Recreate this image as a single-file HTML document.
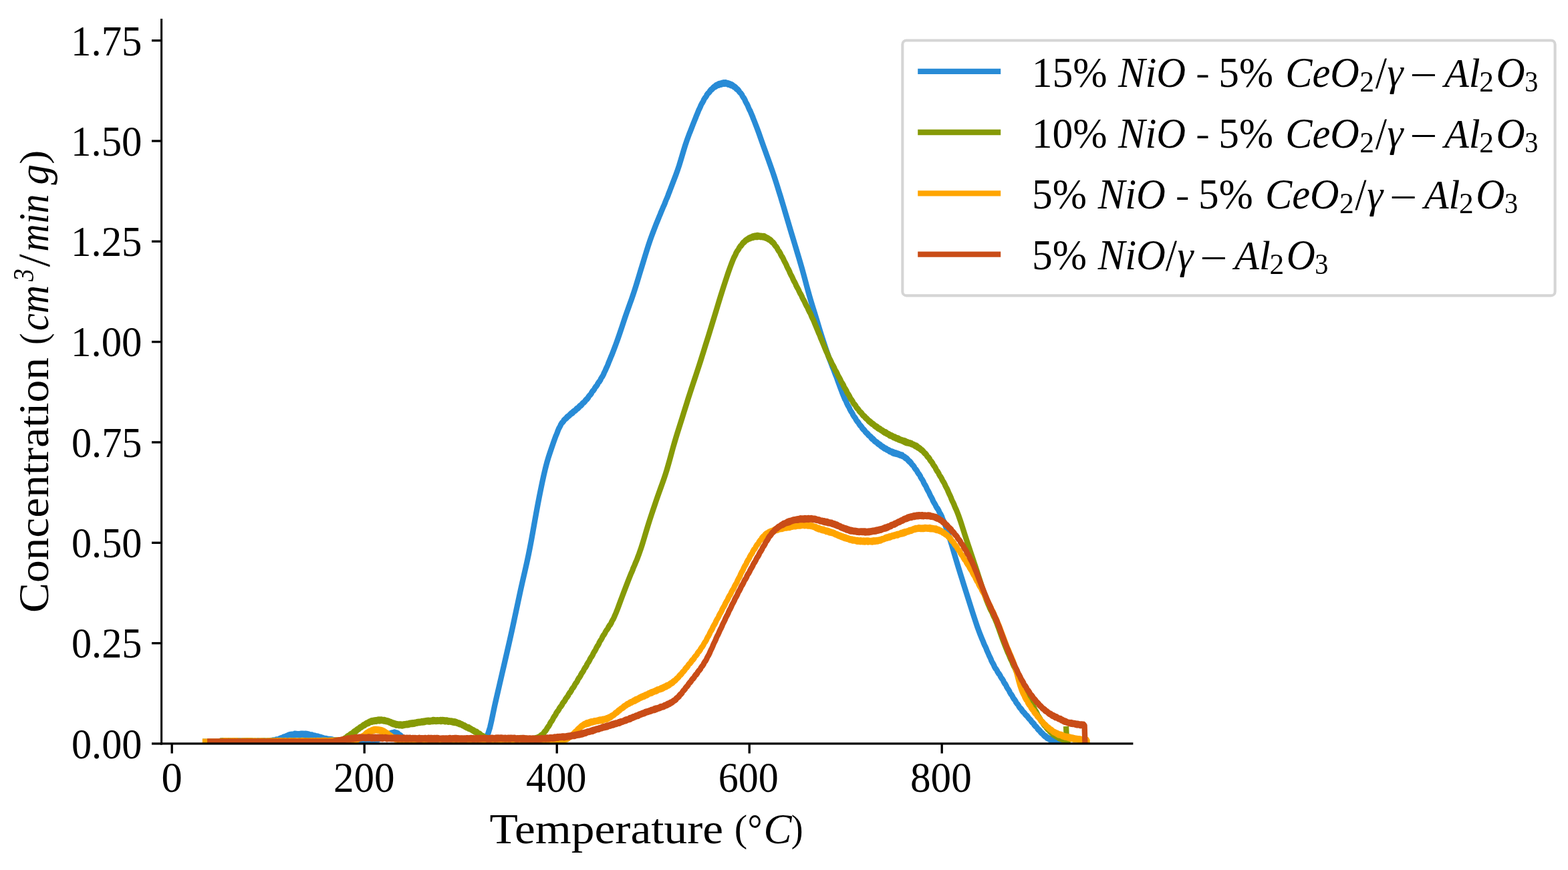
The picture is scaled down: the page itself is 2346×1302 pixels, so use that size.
<!DOCTYPE html>
<html lang="en"><head><meta charset="utf-8"><title>H2-TPR profiles</title>
<style>
html,body{margin:0;padding:0;background:#fff;}
body{width:2346px;height:1302px;overflow:hidden;}
svg{display:block;}
text{font-family:"Liberation Serif","DejaVu Serif",serif;fill:#000;}
.i{font-style:italic;}
</style></head><body>
<svg width="2346" height="1302" viewBox="0 0 2346 1302">
<rect width="2346" height="1302" fill="#fff"/>
<defs><clipPath id="ax"><rect x="241.6" y="28.0" width="1453.7" height="1084.9"/></clipPath></defs>

<g clip-path="url(#ax)" fill="none" stroke-width="8.33" stroke-linejoin="round" stroke-linecap="butt">
<path d="M303.0,1110.0 L305.3,1110.0 L307.6,1110.0 L309.9,1110.0 L312.2,1110.0 L314.5,1110.0 L316.8,1110.0 L319.1,1110.0 L321.4,1110.0 L323.7,1110.0 L326.0,1110.0 L328.3,1110.0 L330.6,1111.0 L330.6,1108.5 L332.9,1108.8 L332.9,1111.3 L335.2,1111.7 L335.2,1108.3 L337.5,1108.3 L337.5,1111.6 L339.8,1111.0 L339.8,1108.8 L342.1,1108.7 L342.1,1111.0 L344.4,1111.6 L344.4,1108.7 L346.7,1108.6 L346.7,1111.7 L349.0,1111.0 L349.0,1108.3 L351.3,1108.6 L351.3,1111.4 L353.6,1111.1 L353.6,1108.4 L355.9,1108.4 L355.9,1111.6 L358.2,1111.0 L358.2,1108.5 L360.5,1108.6 L360.5,1111.7 L362.8,1111.3 L362.8,1108.3 L365.1,1108.4 L365.1,1111.7 L367.4,1111.7 L367.4,1108.7 L369.7,1108.9 L369.7,1111.2 L372.0,1111.3 L372.0,1108.3 L374.3,1108.4 L374.3,1111.4 L376.6,1111.5 L376.6,1108.4 L378.9,1108.9 L378.9,1111.1 L381.2,1111.5 L381.2,1108.8 L383.5,1109.0 L383.5,1111.6 L385.8,1111.1 L385.8,1108.5 L388.1,1108.6 L388.1,1111.7 L390.4,1111.5 L390.4,1108.6 L392.7,1108.4 L392.7,1111.2 L395.0,1111.1 L395.0,1108.4 L397.3,1109.0 L397.3,1111.0 L399.6,1110.9 L399.6,1108.6 L401.9,1108.6 L401.9,1111.2 L404.2,1111.0 L404.2,1108.2 L406.5,1107.9 L406.5,1110.7 L408.8,1110.1 L408.8,1107.4 L411.1,1107.4 L411.1,1109.7 L413.4,1109.1 L413.4,1106.5 L415.7,1106.3 L415.7,1108.7 L418.0,1107.9 L418.0,1105.3 L420.3,1104.3 L420.3,1106.9 L422.6,1105.6 L422.6,1103.7 L424.9,1102.3 L424.9,1104.8 L427.2,1103.7 L427.2,1101.7 L429.5,1100.7 L429.5,1102.8 L431.8,1102.3 L431.8,1099.7 L434.1,1099.0 L434.1,1101.7 L436.4,1101.3 L436.4,1098.6 L438.7,1098.6 L438.7,1101.2 L441.0,1100.3 L441.0,1097.7 L443.3,1097.8 L443.3,1100.1 L445.6,1100.2 L445.6,1098.1 L447.9,1098.1 L447.9,1100.4 L450.2,1100.8 L450.2,1097.6 L452.5,1097.7 L452.5,1100.7 L454.8,1100.5 L454.8,1097.8 L457.1,1097.7 L457.1,1100.9 L459.4,1100.6 L459.4,1097.9 L461.7,1098.6 L461.7,1101.4 L464.0,1101.4 L464.0,1099.2 L466.3,1099.3 L466.3,1102.2 L468.6,1102.2 L468.6,1100.3 L470.9,1100.7 L470.9,1102.9 L473.2,1103.6 L473.2,1101.4 L475.5,1101.7 L475.5,1104.4 L477.8,1104.9 L477.8,1102.4 L480.1,1103.1 L480.1,1105.4 L482.4,1106.2 L482.4,1103.8 L484.7,1104.6 L484.7,1106.8 L487.0,1108.0 L487.0,1104.8 L489.3,1105.5 L489.3,1108.2 L491.6,1108.7 L491.6,1105.9 L493.9,1106.0 L493.9,1109.2 L496.2,1109.5 L496.2,1106.2 L498.5,1106.9 L498.5,1109.6 L500.8,1109.6 L500.8,1107.4 L503.1,1107.6 L503.1,1110.2 L505.4,1110.3 L505.4,1107.6 L507.7,1107.6 L507.7,1110.0 L510.0,1110.6 L510.0,1107.5 L512.3,1107.5 L512.3,1110.6 L514.6,1110.2 L514.6,1107.8 L516.9,1108.0 L516.9,1110.0 L519.2,1110.1 L519.2,1107.7 L521.5,1107.3 L521.5,1109.9 L523.8,1109.8 L523.8,1107.5 L526.1,1107.3 L526.1,1110.2 L528.4,1110.2 L528.4,1107.5 L530.7,1107.1 L530.7,1109.7 L533.0,1110.1 L533.0,1107.0 L535.3,1106.9 L535.3,1110.1 L537.6,1110.0 L537.6,1107.5 L539.9,1106.7 L539.9,1109.7 L542.2,1109.4 L542.2,1106.5 L544.5,1106.7 L544.5,1109.7 L546.8,1109.2 L546.8,1106.3 L549.1,1106.5 L549.1,1109.0 L551.4,1109.0 L551.4,1106.7 L553.7,1106.2 L553.7,1109.0 L556.0,1108.6 L556.0,1105.8 L558.3,1105.8 L558.3,1108.2 L560.6,1108.3 L560.6,1105.5 L562.9,1105.4 L562.9,1107.6 L565.2,1107.3 L565.2,1104.4 L567.5,1103.7 L567.5,1106.0 L569.8,1105.1 L569.8,1102.9 L572.1,1101.8 L572.1,1104.0 L574.4,1103.2 L574.4,1101.2 L576.7,1100.1 L576.7,1102.7 L579.0,1101.2 L579.0,1099.3 L581.3,1098.1 L581.3,1101.0 L583.6,1100.0 L583.6,1097.6 L585.9,1096.5 L585.9,1099.4 L588.2,1098.4 L588.2,1096.2 L590.5,1095.4 L590.5,1098.6 L592.8,1098.2 L592.8,1096.3 L595.1,1097.1 L595.1,1099.1 L597.4,1100.6 L597.4,1099.1 L599.7,1100.7 L599.7,1102.7 L602.0,1104.5 L602.0,1102.6 L604.3,1104.3 L604.3,1105.9 L606.6,1107.4 L606.6,1105.6 L608.9,1106.6 L608.9,1108.7 L611.2,1109.5 L611.2,1106.4 L613.5,1107.1 L613.5,1109.4 L615.8,1109.1 L615.8,1106.7 L618.1,1107.1 L618.1,1109.4 L620.4,1109.2 L620.4,1107.2 L622.7,1107.3 L622.7,1109.9 L625.0,1109.4 L625.0,1107.0 L627.3,1106.9 L627.3,1109.7 L629.6,1109.9 L629.6,1106.8 L631.9,1106.9 L631.9,1109.8 L634.2,1109.7 L634.2,1106.8 L636.5,1107.1 L636.5,1109.4 L638.8,1109.8 L638.8,1107.2 L641.1,1107.4 L641.1,1109.7 L643.4,1110.1 L643.4,1107.4 L645.7,1107.0 L645.7,1109.8 L648.0,1110.0 L648.0,1107.0 L650.3,1107.0 L650.3,1109.5 L652.6,1109.9 L652.6,1107.0 L654.9,1106.8 L654.9,1110.0 L657.2,1110.1 L657.2,1107.4 L659.5,1106.8 L659.5,1110.2 L661.8,1109.5 L661.8,1106.9 L664.1,1107.1 L664.1,1110.1 L666.4,1109.9 L666.4,1106.9 L668.7,1107.5 L668.7,1109.5 L671.0,1110.1 L671.0,1107.2 L673.3,1106.9 L673.3,1109.7 L675.6,1109.8 L675.6,1106.8 L677.9,1107.0 L677.9,1109.5 L680.2,1109.6 L680.2,1106.9 L682.5,1106.9 L682.5,1110.0 L684.8,1109.7 L684.8,1107.1 L687.1,1106.8 L687.1,1109.5 L689.4,1109.6 L689.4,1106.9 L691.7,1107.2 L691.7,1110.1 L694.0,1110.0 L694.0,1107.2 L696.3,1107.2 L696.3,1110.1 L698.6,1109.7 L698.6,1107.3 L700.9,1106.8 L700.9,1109.9 L703.2,1110.0 L703.2,1107.4 L705.5,1106.9 L705.5,1109.6 L707.8,1109.6 L707.8,1106.7 L710.1,1106.4 L710.1,1109.6 L712.4,1109.3 L712.4,1106.8 L714.7,1106.4 L714.7,1109.3 L717.0,1108.9 L717.0,1105.8 L719.3,1106.1 L719.3,1107.9 L721.6,1107.7 L721.6,1104.9 L723.9,1104.3 L723.9,1106.5 L726.2,1104.2 L726.2,1102.9 L728.5,1100.6 L728.5,1101.4 L730.8,1096.5 L730.8,1096.1 L733.1,1088.7 L735.4,1078.6 L737.7,1067.6 L740.0,1056.7 L742.3,1046.5 L744.6,1036.5 L746.9,1026.6 L749.2,1016.6 L751.5,1006.6 L753.8,996.7 L756.1,986.7 L758.4,976.8 L760.7,966.8 L763.0,956.6 L765.3,946.4 L767.6,935.9 L769.9,925.2 L772.2,914.4 L774.5,903.6 L776.8,892.8 L779.1,882.2 L781.4,871.9 L783.7,861.9 L786.0,851.9 L788.3,841.7 L790.6,830.9 L792.9,819.4 L795.2,807.2 L797.5,794.5 L799.8,781.6 L802.1,768.7 L804.4,756.2 L806.7,744.2 L809.0,732.7 L811.3,721.7 L813.6,711.2 L815.9,701.4 L818.2,692.5 L820.5,684.6 L822.8,677.6 L825.1,670.8 L827.4,664.2 L829.7,657.7 L832.0,651.4 L832.0,651.7 L834.3,646.0 L834.3,645.6 L836.6,640.2 L836.6,640.7 L838.9,636.2 L838.9,635.7 L841.2,632.0 L841.2,632.7 L843.5,630.0 L843.5,629.0 L845.8,626.6 L845.8,627.6 L848.1,625.4 L848.1,624.0 L850.4,622.2 L850.4,623.3 L852.7,621.4 L852.7,620.2 L855.0,617.9 L855.0,619.6 L857.3,617.7 L857.3,616.1 L859.6,614.3 L859.6,615.7 L861.9,613.6 L861.9,612.2 L864.2,610.3 L864.2,611.9 L866.5,609.5 L866.5,608.2 L868.8,606.2 L868.8,607.5 L871.1,605.1 L871.1,603.9 L873.4,601.8 L873.4,602.8 L875.7,600.4 L875.7,599.3 L878.0,596.7 L878.0,597.9 L880.3,594.9 L880.3,593.9 L882.6,591.0 L882.6,591.9 L884.9,588.7 L884.9,587.8 L887.2,584.5 L887.2,585.3 L889.5,582.0 L889.5,581.3 L891.8,578.0 L891.8,578.8 L894.1,575.3 L894.1,574.5 L896.4,571.1 L896.4,571.9 L898.7,568.1 L898.7,567.4 L901.0,563.6 L901.0,564.2 L903.3,559.7 L903.3,559.1 L905.6,554.5 L907.9,549.1 L907.9,549.5 L910.2,544.0 L910.2,543.6 L912.5,538.2 L914.8,532.3 L914.8,532.7 L917.1,526.7 L919.4,520.7 L921.7,514.6 L924.0,508.3 L926.3,501.7 L928.6,494.9 L930.9,488.0 L933.2,481.0 L935.5,474.2 L937.8,467.5 L940.1,461.1 L942.4,454.7 L944.7,448.3 L947.0,441.7 L949.3,434.7 L951.6,427.5 L953.9,420.0 L956.2,412.4 L958.5,404.8 L960.8,397.2 L963.1,389.7 L965.4,382.1 L967.7,374.7 L970.0,367.5 L972.3,360.7 L974.6,354.2 L976.9,348.0 L979.2,342.0 L981.5,336.1 L983.8,330.4 L986.1,324.7 L988.4,319.4 L988.4,319.0 L990.7,313.7 L993.0,308.0 L993.0,308.5 L995.3,302.9 L995.3,302.5 L997.6,297.0 L997.6,297.3 L999.9,291.5 L999.9,291.1 L1002.2,285.4 L1004.5,279.3 L1006.8,273.3 L1009.1,267.3 L1011.4,261.2 L1013.7,254.8 L1016.0,248.0 L1018.3,240.6 L1020.6,232.8 L1022.9,225.0 L1025.2,217.6 L1027.5,210.7 L1029.8,204.3 L1032.1,198.1 L1032.1,198.4 L1034.4,192.4 L1036.7,186.5 L1039.0,180.7 L1041.3,175.1 L1041.3,174.8 L1043.6,169.3 L1045.9,163.7 L1045.9,164.1 L1048.2,159.1 L1048.2,158.7 L1050.5,154.0 L1050.5,154.6 L1052.8,150.3 L1052.8,149.7 L1055.1,145.8 L1055.1,146.4 L1057.4,143.0 L1057.4,142.1 L1059.7,139.1 L1059.7,139.9 L1062.0,137.2 L1062.0,136.1 L1064.3,133.4 L1064.3,134.7 L1066.6,132.5 L1066.6,131.2 L1068.9,129.4 L1068.9,130.8 L1071.2,129.6 L1071.2,127.4 L1073.5,126.4 L1073.5,128.1 L1075.8,127.6 L1075.8,125.0 L1078.1,124.5 L1078.1,126.9 L1080.4,126.3 L1080.4,123.7 L1082.7,123.2 L1082.7,125.7 L1085.0,125.8 L1085.0,123.1 L1087.3,123.7 L1087.3,125.9 L1089.6,126.7 L1089.6,124.2 L1091.9,125.3 L1091.9,127.3 L1094.2,128.4 L1094.2,125.9 L1096.5,127.4 L1096.5,129.2 L1098.8,130.8 L1098.8,129.1 L1101.1,131.2 L1101.1,132.6 L1103.4,134.4 L1103.4,133.2 L1105.7,135.9 L1105.7,137.0 L1108.0,139.6 L1108.0,138.8 L1110.3,142.1 L1110.3,142.8 L1112.6,146.7 L1112.6,146.0 L1114.9,150.3 L1114.9,150.9 L1117.2,155.4 L1117.2,154.9 L1119.5,159.7 L1119.5,160.1 L1121.8,165.2 L1121.8,164.7 L1124.1,170.2 L1126.4,175.5 L1126.4,175.9 L1128.7,181.5 L1131.0,187.4 L1133.3,193.5 L1135.6,199.8 L1137.9,206.3 L1140.2,212.8 L1142.5,219.3 L1144.8,225.7 L1147.1,232.1 L1149.4,238.4 L1151.7,244.8 L1154.0,251.3 L1156.3,258.0 L1158.6,264.9 L1160.9,272.0 L1163.2,279.3 L1165.5,286.7 L1167.8,294.1 L1170.1,301.7 L1172.4,309.4 L1174.7,317.2 L1177.0,325.0 L1179.3,332.8 L1181.6,340.5 L1183.9,348.2 L1186.2,355.8 L1188.5,363.4 L1190.8,371.0 L1193.1,378.7 L1195.4,386.4 L1197.7,394.2 L1200.0,402.2 L1202.3,410.5 L1204.6,419.0 L1206.9,427.7 L1209.2,436.2 L1211.5,444.4 L1213.8,452.2 L1216.1,459.7 L1218.4,467.1 L1220.7,474.5 L1223.0,482.0 L1225.3,489.6 L1227.6,497.1 L1229.9,504.4 L1232.2,511.6 L1234.5,518.6 L1236.8,525.4 L1239.1,532.0 L1241.4,538.3 L1243.7,544.4 L1246.0,550.4 L1246.0,550.1 L1248.3,555.9 L1248.3,556.3 L1250.6,562.2 L1250.6,561.9 L1252.9,568.0 L1252.9,568.3 L1255.2,574.5 L1257.5,580.8 L1259.8,586.9 L1262.1,592.6 L1264.4,598.1 L1264.4,597.6 L1266.7,602.6 L1266.7,603.0 L1269.0,607.7 L1269.0,607.3 L1271.3,611.6 L1271.3,612.1 L1273.6,616.4 L1273.6,615.7 L1275.9,619.8 L1275.9,620.4 L1278.2,624.2 L1278.2,623.4 L1280.5,627.0 L1280.5,627.7 L1282.8,631.1 L1282.8,630.3 L1285.1,633.4 L1285.1,634.3 L1287.4,637.4 L1287.4,636.4 L1289.7,639.5 L1289.7,640.5 L1292.0,643.2 L1292.0,642.2 L1294.3,644.9 L1294.3,646.0 L1296.6,648.5 L1296.6,647.4 L1298.9,649.7 L1298.9,650.9 L1301.2,653.1 L1301.2,652.0 L1303.5,654.1 L1303.5,655.7 L1305.8,657.8 L1305.8,656.2 L1308.1,658.6 L1308.1,660.0 L1310.4,661.9 L1310.4,660.5 L1312.7,662.2 L1312.7,663.6 L1315.0,665.4 L1315.0,663.9 L1317.3,665.4 L1317.3,667.1 L1319.6,668.9 L1319.6,667.4 L1321.9,668.8 L1321.9,670.5 L1324.2,672.1 L1324.2,670.2 L1326.5,671.4 L1326.5,673.2 L1328.8,674.4 L1328.8,672.8 L1331.1,673.9 L1331.1,676.1 L1333.4,676.9 L1333.4,675.1 L1335.7,675.7 L1335.7,678.3 L1338.0,679.2 L1338.0,676.9 L1340.3,677.3 L1340.3,679.8 L1342.6,680.3 L1342.6,678.2 L1344.9,679.1 L1344.9,681.0 L1347.2,682.1 L1347.2,680.0 L1349.5,680.6 L1349.5,682.8 L1351.8,683.8 L1351.8,682.3 L1354.1,683.9 L1354.1,685.5 L1356.4,687.0 L1356.4,685.5 L1358.7,688.1 L1358.7,689.2 L1361.0,691.5 L1361.0,690.1 L1363.3,692.7 L1363.3,693.9 L1365.6,696.6 L1365.6,695.7 L1367.9,698.7 L1367.9,699.6 L1370.2,702.9 L1370.2,702.1 L1372.5,705.5 L1372.5,706.2 L1374.8,709.8 L1374.8,709.0 L1377.1,712.9 L1377.1,713.6 L1379.4,717.5 L1379.4,716.9 L1381.7,721.1 L1381.7,721.7 L1384.0,726.0 L1384.0,725.4 L1386.3,729.9 L1386.3,730.3 L1388.6,734.9 L1388.6,734.3 L1390.9,739.0 L1390.9,739.4 L1393.2,744.0 L1393.2,743.5 L1395.5,748.2 L1395.5,748.7 L1397.8,753.0 L1397.8,752.6 L1400.1,756.7 L1400.1,757.1 L1402.4,761.2 L1402.4,760.4 L1404.7,764.4 L1404.7,765.0 L1407.0,769.2 L1407.0,768.7 L1409.3,773.6 L1409.3,774.0 L1411.6,779.5 L1411.6,779.1 L1413.9,785.3 L1416.2,791.7 L1418.5,798.4 L1420.8,805.3 L1423.1,812.7 L1425.4,820.4 L1427.7,828.3 L1430.0,836.2 L1432.3,843.8 L1434.6,851.3 L1436.9,858.8 L1439.2,866.1 L1441.5,873.4 L1443.8,880.8 L1446.1,888.1 L1448.4,895.3 L1450.7,902.6 L1453.0,909.7 L1455.3,916.9 L1457.6,924.0 L1459.9,931.0 L1462.2,937.8 L1464.5,944.2 L1466.8,950.2 L1469.1,955.8 L1471.4,961.1 L1471.4,961.5 L1473.7,966.8 L1473.7,966.4 L1476.0,971.7 L1476.0,972.1 L1478.3,977.2 L1480.6,982.7 L1480.6,982.2 L1482.9,987.3 L1482.9,987.8 L1485.2,992.5 L1485.2,992.0 L1487.5,996.5 L1487.5,997.1 L1489.8,1001.1 L1489.8,1000.4 L1492.1,1004.1 L1492.1,1004.8 L1494.4,1008.5 L1494.4,1007.7 L1496.7,1011.4 L1496.7,1012.1 L1499.0,1015.8 L1499.0,1015.2 L1501.3,1019.0 L1501.3,1019.7 L1503.6,1023.7 L1503.6,1022.9 L1505.9,1027.0 L1505.9,1027.6 L1508.2,1031.5 L1508.2,1031.0 L1510.5,1034.9 L1510.5,1035.5 L1512.8,1039.5 L1512.8,1038.8 L1515.1,1042.4 L1515.1,1043.0 L1517.4,1046.7 L1517.4,1046.1 L1519.7,1049.5 L1519.7,1050.3 L1522.0,1053.7 L1522.0,1053.0 L1524.3,1056.4 L1524.3,1057.0 L1526.6,1060.2 L1526.6,1059.3 L1528.9,1062.2 L1528.9,1063.3 L1531.2,1066.1 L1531.2,1065.1 L1533.5,1067.8 L1533.5,1068.7 L1535.8,1071.3 L1535.8,1070.2 L1538.1,1073.0 L1538.1,1073.9 L1540.4,1076.6 L1540.4,1075.7 L1542.7,1078.3 L1542.7,1079.3 L1545.0,1082.0 L1545.0,1081.1 L1547.3,1083.6 L1547.3,1084.9 L1549.6,1087.5 L1549.6,1086.6 L1551.9,1089.2 L1551.9,1090.3 L1554.2,1092.9 L1554.2,1091.7 L1556.5,1094.1 L1556.5,1095.4 L1558.8,1097.8 L1558.8,1096.5 L1561.1,1098.7 L1561.1,1100.0 L1563.4,1102.3 L1563.4,1100.6 L1565.7,1102.4 L1565.7,1104.2 L1568.0,1105.6 L1568.0,1103.9 L1570.3,1104.7 L1570.3,1106.8 L1572.6,1108.3 L1572.6,1106.0 L1574.9,1106.9 L1574.9,1108.9 L1577.2,1110.0 L1577.2,1107.7 L1579.5,1108.1 L1579.5,1110.4 L1581.8,1111.3 L1581.8,1108.4 L1584.1,1109.2 L1584.1,1111.5 L1586.4,1111.4 L1586.4,1109.4 L1588.7,1109.7 L1588.7,1112.0 L1591.0,1112.0 L1591.0,1109.5" stroke="#288bd6"/>
<path d="M303.0,1110.0 L305.3,1110.0 L307.6,1110.0 L309.9,1110.0 L312.2,1110.0 L314.5,1110.0 L316.8,1110.0 L319.1,1110.0 L321.4,1110.0 L323.7,1110.0 L326.0,1110.0 L328.3,1110.0 L330.6,1111.6 L330.6,1108.9 L332.9,1108.3 L332.9,1111.7 L335.2,1111.1 L335.2,1109.0 L337.5,1109.0 L337.5,1111.5 L339.8,1111.5 L339.8,1108.8 L342.1,1108.5 L342.1,1111.0 L344.4,1111.6 L344.4,1108.7 L346.7,1109.0 L346.7,1111.0 L349.0,1111.1 L349.0,1108.4 L351.3,1108.6 L351.3,1111.1 L353.6,1111.4 L353.6,1109.0 L355.9,1108.7 L355.9,1111.4 L358.2,1111.6 L358.2,1108.9 L360.5,1108.9 L360.5,1111.2 L362.8,1111.3 L362.8,1109.0 L365.1,1108.8 L365.1,1111.6 L367.4,1111.1 L367.4,1108.3 L369.7,1108.4 L369.7,1111.0 L372.0,1111.3 L372.0,1108.4 L374.3,1108.3 L374.3,1111.2 L376.6,1111.3 L376.6,1108.5 L378.9,1109.0 L378.9,1111.1 L381.2,1111.2 L381.2,1108.7 L383.5,1108.8 L383.5,1111.2 L385.8,1111.6 L385.8,1108.9 L388.1,1109.0 L388.1,1111.5 L390.4,1111.2 L390.4,1108.8 L392.7,1108.9 L392.7,1111.1 L395.0,1111.5 L395.0,1108.7 L397.3,1108.6 L397.3,1111.5 L399.6,1111.6 L399.6,1108.7 L401.9,1108.7 L401.9,1111.2 L404.2,1111.4 L404.2,1108.8 L406.5,1108.9 L406.5,1111.2 L408.8,1111.3 L408.8,1108.3 L411.1,1108.4 L411.1,1111.2 L413.4,1111.1 L413.4,1108.5 L415.7,1108.3 L415.7,1111.5 L418.0,1111.4 L418.0,1108.5 L420.3,1108.4 L420.3,1111.6 L422.6,1111.3 L422.6,1108.3 L424.9,1108.4 L424.9,1111.2 L427.2,1111.0 L427.2,1108.8 L429.5,1108.9 L429.5,1111.0 L431.8,1110.9 L431.8,1108.7 L434.1,1108.5 L434.1,1111.2 L436.4,1111.0 L436.4,1108.3 L438.7,1108.8 L438.7,1111.2 L441.0,1111.0 L441.0,1108.4 L443.3,1108.8 L443.3,1111.2 L445.6,1111.4 L445.6,1108.8 L447.9,1108.4 L447.9,1111.1 L450.2,1111.3 L450.2,1108.3 L452.5,1108.3 L452.5,1110.9 L454.8,1110.9 L454.8,1108.5 L457.1,1108.2 L457.1,1110.9 L459.4,1111.4 L459.4,1108.4 L461.7,1108.8 L461.7,1110.9 L464.0,1111.0 L464.0,1108.8 L466.3,1108.1 L466.3,1111.0 L468.6,1111.4 L468.6,1108.3 L470.9,1108.4 L470.9,1110.9 L473.2,1110.9 L473.2,1108.2 L475.5,1108.5 L475.5,1110.8 L477.8,1110.6 L477.8,1108.4 L480.1,1108.3 L480.1,1111.1 L482.4,1111.1 L482.4,1108.3 L484.7,1108.2 L484.7,1110.5 L487.0,1110.8 L487.0,1107.9 L489.3,1108.2 L489.3,1111.0 L491.6,1110.4 L491.6,1108.1 L493.9,1108.3 L493.9,1110.3 L496.2,1110.8 L496.2,1108.1 L498.5,1108.2 L498.5,1110.7 L500.8,1110.7 L500.8,1108.1 L503.1,1107.5 L503.1,1110.5 L505.4,1110.7 L505.4,1107.6 L507.7,1107.7 L507.7,1110.2 L510.0,1109.5 L510.0,1107.5 L512.3,1106.7 L512.3,1108.6 L514.6,1107.3 L514.6,1105.5 L516.9,1104.0 L516.9,1105.7 L519.2,1103.9 L519.2,1102.0 L521.5,1100.6 L521.5,1102.4 L523.8,1100.6 L523.8,1098.8 L526.1,1097.5 L526.1,1099.2 L528.4,1097.6 L528.4,1095.7 L530.7,1093.9 L530.7,1095.9 L533.0,1094.4 L533.0,1092.4 L535.3,1090.7 L535.3,1092.4 L537.6,1090.8 L537.6,1089.1 L539.9,1087.4 L539.9,1089.2 L542.2,1087.5 L542.2,1086.2 L544.5,1084.2 L544.5,1086.4 L546.8,1084.7 L546.8,1083.0 L549.1,1081.5 L549.1,1083.5 L551.4,1082.8 L551.4,1080.5 L553.7,1079.3 L553.7,1081.2 L556.0,1080.9 L556.0,1078.2 L558.3,1078.0 L558.3,1079.9 L560.6,1080.0 L560.6,1077.5 L562.9,1077.2 L562.9,1079.8 L565.2,1079.0 L565.2,1076.7 L567.5,1076.4 L567.5,1079.4 L569.8,1078.8 L569.8,1076.3 L572.1,1076.8 L572.1,1078.9 L574.4,1079.6 L574.4,1076.9 L576.7,1077.5 L576.7,1079.9 L579.0,1080.3 L579.0,1078.1 L581.3,1078.7 L581.3,1080.9 L583.6,1082.0 L583.6,1079.7 L585.9,1080.6 L585.9,1083.3 L588.2,1084.3 L588.2,1081.4 L590.5,1082.2 L590.5,1084.6 L592.8,1085.7 L592.8,1082.9 L595.1,1083.3 L595.1,1085.5 L597.4,1086.2 L597.4,1083.5 L599.7,1083.4 L599.7,1086.3 L602.0,1086.5 L602.0,1083.8 L604.3,1083.2 L604.3,1086.0 L606.6,1085.5 L606.6,1083.2 L608.9,1082.6 L608.9,1085.3 L611.2,1085.0 L611.2,1082.5 L613.5,1081.6 L613.5,1084.3 L615.8,1084.1 L615.8,1081.5 L618.1,1081.2 L618.1,1084.0 L620.4,1083.6 L620.4,1080.9 L622.7,1080.5 L622.7,1082.9 L625.0,1082.4 L625.0,1079.8 L627.3,1079.7 L627.3,1082.1 L629.6,1081.6 L629.6,1079.5 L631.9,1078.9 L631.9,1081.5 L634.2,1081.4 L634.2,1078.7 L636.5,1078.4 L636.5,1080.8 L638.8,1080.3 L638.8,1077.8 L641.1,1077.7 L641.1,1080.5 L643.4,1080.6 L643.4,1077.9 L645.7,1077.7 L645.7,1080.1 L648.0,1080.2 L648.0,1077.0 L650.3,1077.2 L650.3,1079.7 L652.6,1080.0 L652.6,1077.5 L654.9,1077.2 L654.9,1079.8 L657.2,1079.4 L657.2,1077.3 L659.5,1077.0 L659.5,1080.0 L661.8,1079.7 L661.8,1077.0 L664.1,1077.2 L664.1,1079.7 L666.4,1080.4 L666.4,1077.5 L668.7,1077.4 L668.7,1079.9 L671.0,1080.8 L671.0,1078.1 L673.3,1078.4 L673.3,1080.6 L675.6,1081.0 L675.6,1078.5 L677.9,1079.0 L677.9,1081.7 L680.2,1082.0 L680.2,1079.2 L682.5,1079.9 L682.5,1082.2 L684.8,1083.0 L684.8,1081.0 L687.1,1081.5 L687.1,1084.1 L689.4,1084.6 L689.4,1082.7 L691.7,1083.8 L691.7,1085.9 L694.0,1086.8 L694.0,1084.8 L696.3,1086.3 L696.3,1088.3 L698.6,1089.4 L698.6,1087.4 L700.9,1088.1 L700.9,1090.5 L703.2,1091.4 L703.2,1089.4 L705.5,1091.0 L705.5,1092.5 L707.8,1093.9 L707.8,1091.9 L710.1,1093.4 L710.1,1095.5 L712.4,1096.3 L712.4,1094.3 L714.7,1096.2 L714.7,1098.0 L717.0,1099.2 L717.0,1097.4 L719.3,1099.2 L719.3,1100.9 L721.6,1102.2 L721.6,1100.7 L723.9,1102.0 L723.9,1103.8 L726.2,1105.5 L726.2,1103.3 L728.5,1103.8 L728.5,1106.1 L730.8,1107.5 L730.8,1105.0 L733.1,1105.4 L733.1,1107.7 L735.4,1108.8 L735.4,1105.9 L737.7,1106.5 L737.7,1108.8 L740.0,1108.9 L740.0,1106.9 L742.3,1107.0 L742.3,1109.3 L744.6,1109.4 L744.6,1106.9 L746.9,1106.8 L746.9,1109.1 L749.2,1109.5 L749.2,1106.9 L751.5,1106.2 L751.5,1109.5 L753.8,1109.5 L753.8,1106.6 L756.1,1106.1 L756.1,1108.8 L758.4,1108.7 L758.4,1106.2 L760.7,1106.0 L760.7,1108.7 L763.0,1108.8 L763.0,1106.1 L765.3,1105.9 L765.3,1108.3 L767.6,1108.6 L767.6,1105.8 L769.9,1105.7 L769.9,1108.5 L772.2,1108.0 L772.2,1105.5 L774.5,1104.9 L774.5,1107.4 L776.8,1106.8 L776.8,1104.6 L779.1,1104.0 L779.1,1106.4 L781.4,1106.8 L781.4,1104.1 L783.7,1104.1 L783.7,1106.6 L786.0,1107.3 L786.0,1104.5 L788.3,1105.0 L788.3,1107.4 L790.6,1107.9 L790.6,1105.5 L792.9,1105.2 L792.9,1107.9 L795.2,1108.2 L795.2,1105.2 L797.5,1105.2 L797.5,1108.0 L799.8,1106.9 L799.8,1104.8 L802.1,1104.0 L802.1,1106.6 L804.4,1105.0 L804.4,1103.4 L806.7,1102.2 L806.7,1103.8 L809.0,1102.2 L809.0,1100.5 L811.3,1099.0 L811.3,1100.2 L813.6,1097.6 L813.6,1096.6 L815.9,1093.6 L815.9,1094.6 L818.2,1091.0 L818.2,1090.3 L820.5,1086.9 L820.5,1087.6 L822.8,1083.7 L822.8,1083.0 L825.1,1079.2 L825.1,1079.9 L827.4,1076.0 L827.4,1075.3 L829.7,1071.5 L829.7,1072.0 L832.0,1068.3 L832.0,1067.6 L834.3,1064.0 L834.3,1064.6 L836.6,1061.1 L836.6,1060.4 L838.9,1057.1 L838.9,1057.8 L841.2,1054.4 L841.2,1053.5 L843.5,1050.2 L843.5,1050.8 L845.8,1047.4 L845.8,1046.7 L848.1,1043.3 L848.1,1043.9 L850.4,1040.4 L850.4,1039.7 L852.7,1036.1 L852.7,1036.9 L855.0,1033.3 L855.0,1032.6 L857.3,1029.0 L857.3,1029.7 L859.6,1026.1 L859.6,1025.4 L861.9,1021.7 L861.9,1022.4 L864.2,1018.6 L864.2,1017.8 L866.5,1014.0 L866.5,1014.7 L868.8,1010.9 L868.8,1010.3 L871.1,1006.3 L871.1,1007.0 L873.4,1003.1 L873.4,1002.5 L875.7,998.5 L875.7,999.3 L878.0,995.4 L878.0,994.6 L880.3,990.8 L880.3,991.4 L882.6,987.3 L882.6,986.7 L884.9,982.8 L884.9,983.3 L887.2,979.3 L887.2,978.7 L889.5,974.6 L889.5,975.1 L891.8,971.0 L891.8,970.5 L894.1,966.2 L894.1,966.9 L896.4,962.7 L896.4,962.1 L898.7,957.9 L898.7,958.5 L901.0,954.5 L901.0,953.9 L903.3,949.9 L903.3,950.6 L905.6,946.7 L905.6,946.1 L907.9,942.4 L907.9,942.9 L910.2,939.5 L910.2,938.7 L912.5,935.0 L912.5,935.8 L914.8,931.8 L914.8,931.2 L917.1,926.9 L917.1,927.5 L919.4,922.6 L919.4,922.2 L921.7,917.1 L924.0,911.2 L926.3,905.0 L928.6,898.7 L930.9,892.6 L933.2,886.5 L935.5,880.5 L937.8,874.5 L940.1,868.6 L942.4,862.8 L944.7,856.9 L944.7,857.3 L947.0,851.8 L947.0,851.3 L949.3,846.1 L951.6,840.4 L951.6,840.8 L953.9,835.0 L953.9,834.7 L956.2,828.7 L958.5,822.2 L960.8,815.1 L963.1,807.6 L965.4,799.9 L967.7,792.2 L970.0,784.7 L972.3,777.5 L974.6,770.5 L976.9,763.6 L979.2,756.8 L981.5,750.0 L983.8,743.4 L986.1,736.9 L988.4,730.5 L990.7,724.1 L993.0,717.6 L995.3,710.7 L997.6,703.4 L999.9,695.5 L1002.2,687.3 L1004.5,678.8 L1006.8,670.5 L1009.1,662.5 L1011.4,654.7 L1013.7,647.3 L1016.0,640.0 L1018.3,632.7 L1020.6,625.4 L1022.9,618.1 L1025.2,610.7 L1027.5,603.4 L1029.8,596.1 L1032.1,588.9 L1034.4,581.9 L1036.7,575.0 L1039.0,568.1 L1041.3,561.2 L1043.6,554.3 L1045.9,547.2 L1048.2,540.1 L1050.5,532.8 L1052.8,525.5 L1055.1,518.1 L1057.4,510.8 L1059.7,503.4 L1062.0,496.0 L1064.3,488.5 L1066.6,481.0 L1068.9,473.5 L1071.2,466.0 L1073.5,458.4 L1075.8,450.8 L1078.1,443.3 L1080.4,435.9 L1082.7,428.7 L1085.0,421.7 L1087.3,414.7 L1089.6,407.9 L1091.9,401.4 L1094.2,395.1 L1096.5,389.3 L1098.8,383.8 L1098.8,384.3 L1101.1,379.7 L1101.1,379.1 L1103.4,375.0 L1103.4,375.6 L1105.7,372.0 L1105.7,371.3 L1108.0,367.9 L1108.0,368.8 L1110.3,365.9 L1110.3,365.1 L1112.6,362.2 L1112.6,363.5 L1114.9,361.3 L1114.9,360.0 L1117.2,358.2 L1117.2,359.6 L1119.5,358.4 L1119.5,356.6 L1121.8,355.3 L1121.8,357.4 L1124.1,356.3 L1124.1,354.4 L1126.4,353.3 L1126.4,356.0 L1128.7,354.9 L1128.7,352.7 L1131.0,352.5 L1131.0,355.2 L1133.3,355.0 L1133.3,352.0 L1135.6,352.3 L1135.6,354.4 L1137.9,355.1 L1137.9,352.6 L1140.2,352.8 L1140.2,355.2 L1142.5,355.5 L1142.5,352.8 L1144.8,354.0 L1144.8,356.2 L1147.1,357.0 L1147.1,355.2 L1149.4,356.4 L1149.4,358.4 L1151.7,359.7 L1151.7,358.0 L1154.0,359.9 L1154.0,361.6 L1156.3,363.5 L1156.3,362.2 L1158.6,365.1 L1158.6,366.2 L1160.9,369.1 L1160.9,368.4 L1163.2,371.8 L1163.2,372.6 L1165.5,376.3 L1165.5,375.7 L1167.8,379.6 L1167.8,380.3 L1170.1,384.4 L1170.1,383.8 L1172.4,388.2 L1172.4,388.7 L1174.7,393.2 L1174.7,392.8 L1177.0,397.5 L1177.0,398.0 L1179.3,402.8 L1179.3,402.4 L1181.6,407.1 L1181.6,407.7 L1183.9,412.5 L1183.9,412.0 L1186.2,416.8 L1186.2,417.1 L1188.5,421.8 L1188.5,421.4 L1190.8,426.0 L1190.8,426.5 L1193.1,431.0 L1193.1,430.5 L1195.4,435.1 L1195.4,435.5 L1197.7,440.1 L1197.7,439.5 L1200.0,444.1 L1200.0,444.7 L1202.3,449.2 L1202.3,448.7 L1204.6,453.3 L1204.6,453.7 L1206.9,458.3 L1206.9,457.9 L1209.2,462.5 L1209.2,462.9 L1211.5,467.6 L1211.5,467.1 L1213.8,472.0 L1213.8,472.4 L1216.1,477.4 L1216.1,477.0 L1218.4,482.3 L1218.4,482.6 L1220.7,488.0 L1223.0,493.6 L1225.3,499.4 L1225.3,499.0 L1227.6,504.6 L1227.6,505.0 L1229.9,510.4 L1232.2,516.0 L1234.5,521.6 L1236.8,527.3 L1236.8,526.9 L1239.1,532.0 L1239.1,532.4 L1241.4,537.4 L1241.4,537.0 L1243.7,541.6 L1243.7,542.1 L1246.0,546.7 L1246.0,546.2 L1248.3,550.7 L1248.3,551.2 L1250.6,555.8 L1250.6,555.2 L1252.9,559.7 L1252.9,560.1 L1255.2,564.5 L1255.2,564.1 L1257.5,568.4 L1257.5,568.9 L1259.8,573.4 L1259.8,572.8 L1262.1,576.9 L1262.1,577.6 L1264.4,581.8 L1264.4,581.2 L1266.7,585.3 L1266.7,585.9 L1269.0,590.1 L1269.0,589.5 L1271.3,593.5 L1271.3,594.0 L1273.6,598.1 L1273.6,597.4 L1275.9,601.0 L1275.9,601.7 L1278.2,605.4 L1278.2,604.5 L1280.5,607.6 L1280.5,608.6 L1282.8,611.8 L1282.8,610.7 L1285.1,613.7 L1285.1,614.6 L1287.4,617.5 L1287.4,616.3 L1289.7,618.8 L1289.7,620.0 L1292.0,622.7 L1292.0,621.6 L1294.3,623.7 L1294.3,625.0 L1296.6,627.2 L1296.6,625.9 L1298.9,628.3 L1298.9,629.5 L1301.2,631.8 L1301.2,630.0 L1303.5,632.1 L1303.5,633.7 L1305.8,635.4 L1305.8,633.7 L1308.1,635.6 L1308.1,637.2 L1310.4,639.1 L1310.4,637.1 L1312.7,638.7 L1312.7,640.7 L1315.0,642.2 L1315.0,640.3 L1317.3,641.7 L1317.3,643.6 L1319.6,645.1 L1319.6,643.3 L1321.9,645.1 L1321.9,646.8 L1324.2,648.3 L1324.2,645.9 L1326.5,647.3 L1326.5,649.5 L1328.8,650.5 L1328.8,648.8 L1331.1,649.9 L1331.1,652.2 L1333.4,653.0 L1333.4,651.0 L1335.7,652.4 L1335.7,654.3 L1338.0,655.5 L1338.0,653.1 L1340.3,654.5 L1340.3,656.5 L1342.6,657.3 L1342.6,655.1 L1344.9,656.1 L1344.9,658.6 L1347.2,659.3 L1347.2,657.5 L1349.5,658.3 L1349.5,660.1 L1351.8,661.0 L1351.8,658.8 L1354.1,659.5 L1354.1,662.4 L1356.4,663.2 L1356.4,660.6 L1358.7,661.6 L1358.7,663.7 L1361.0,664.2 L1361.0,662.2 L1363.3,663.0 L1363.3,665.0 L1365.6,665.8 L1365.6,664.2 L1367.9,665.3 L1367.9,666.9 L1370.2,668.4 L1370.2,666.1 L1372.5,667.9 L1372.5,669.8 L1374.8,671.1 L1374.8,669.5 L1377.1,671.3 L1377.1,672.9 L1379.4,674.5 L1379.4,673.2 L1381.7,675.6 L1381.7,676.6 L1384.0,679.0 L1384.0,677.8 L1386.3,680.6 L1386.3,681.7 L1388.6,684.7 L1388.6,683.7 L1390.9,686.6 L1390.9,687.5 L1393.2,690.8 L1393.2,690.1 L1395.5,693.4 L1395.5,694.2 L1397.8,697.8 L1397.8,697.2 L1400.1,701.1 L1400.1,701.6 L1402.4,705.6 L1402.4,704.9 L1404.7,708.8 L1404.7,709.5 L1407.0,713.4 L1407.0,712.8 L1409.3,716.8 L1409.3,717.4 L1411.6,721.5 L1411.6,721.0 L1413.9,725.4 L1413.9,725.8 L1416.2,730.5 L1416.2,730.1 L1418.5,735.0 L1418.5,735.4 L1420.8,740.5 L1420.8,740.1 L1423.1,745.4 L1423.1,745.8 L1425.4,751.1 L1425.4,750.7 L1427.7,755.8 L1427.7,756.2 L1430.0,761.5 L1430.0,761.1 L1432.3,766.8 L1434.6,772.8 L1436.9,779.4 L1439.2,786.5 L1441.5,793.7 L1443.8,801.0 L1446.1,808.0 L1448.4,815.0 L1450.7,821.8 L1453.0,828.7 L1455.3,835.5 L1457.6,842.5 L1459.9,849.4 L1462.2,856.4 L1464.5,863.5 L1466.8,870.6 L1469.1,877.8 L1471.4,885.0 L1473.7,891.9 L1476.0,898.3 L1478.3,904.0 L1480.6,909.0 L1480.6,909.4 L1482.9,914.1 L1482.9,913.8 L1485.2,918.4 L1485.2,919.0 L1487.5,923.9 L1487.5,923.3 L1489.8,928.9 L1492.1,934.4 L1492.1,934.8 L1494.4,940.8 L1496.7,947.3 L1499.0,953.8 L1501.3,960.0 L1503.6,966.0 L1505.9,971.7 L1508.2,977.3 L1508.2,977.0 L1510.5,982.2 L1510.5,982.6 L1512.8,987.9 L1512.8,987.4 L1515.1,992.5 L1515.1,993.0 L1517.4,998.1 L1517.4,997.6 L1519.7,1002.5 L1519.7,1002.9 L1522.0,1007.7 L1522.0,1007.4 L1524.3,1012.0 L1524.3,1012.5 L1526.6,1017.2 L1526.6,1016.8 L1528.9,1021.6 L1528.9,1022.0 L1531.2,1026.8 L1531.2,1026.3 L1533.5,1031.2 L1533.5,1031.6 L1535.8,1036.4 L1535.8,1035.9 L1538.1,1040.8 L1538.1,1041.2 L1540.4,1045.9 L1540.4,1045.5 L1542.7,1050.1 L1542.7,1050.7 L1545.0,1055.3 L1545.0,1054.7 L1547.3,1059.3 L1547.3,1059.8 L1549.6,1064.3 L1549.6,1063.8 L1551.9,1068.1 L1551.9,1068.7 L1554.2,1072.9 L1554.2,1072.4 L1556.5,1076.1 L1556.5,1076.9 L1558.8,1080.5 L1558.8,1079.6 L1561.1,1082.6 L1561.1,1083.7 L1563.4,1086.6 L1563.4,1085.7 L1565.7,1088.2 L1565.7,1089.3 L1568.0,1092.1 L1568.0,1090.9 L1570.3,1092.9 L1570.3,1094.2 L1572.6,1096.5 L1572.6,1095.1 L1574.9,1097.0 L1574.9,1098.7 L1577.2,1100.5 L1577.2,1098.6 L1579.5,1100.1 L1579.5,1101.8 L1581.8,1103.3 L1581.8,1101.6 L1584.1,1102.5 L1584.1,1104.9 L1586.4,1105.9 L1586.4,1103.3 L1588.7,1104.6 L1588.7,1106.7 L1591.0,1107.3 L1591.0,1105.0 L1593.3,1105.9 L1593.3,1108.4 L1595.6,1109.2 L1595.6,1106.5 L1597.9,1106.9 L1597.9,1109.2 L1596.0,1108.5 L1595.0,1087.0" stroke="#869a06"/>
<path d="M302.8,1109.6 L305.1,1109.6 L307.4,1109.6 L309.7,1109.6 L312.0,1109.6 L314.3,1109.7 L316.6,1109.7 L318.9,1109.7 L321.2,1109.7 L323.5,1109.7 L325.8,1109.7 L328.1,1109.7 L330.4,1111.3 L330.4,1108.6 L332.7,1108.8 L332.7,1111.0 L335.0,1110.8 L335.0,1108.3 L337.3,1108.1 L337.3,1111.2 L339.6,1110.9 L339.6,1108.5 L341.9,1108.7 L341.9,1111.0 L344.2,1110.8 L344.2,1108.5 L346.5,1108.3 L346.5,1110.9 L348.8,1111.0 L348.8,1108.2 L351.1,1108.6 L351.1,1111.2 L353.4,1111.3 L353.4,1108.2 L355.7,1108.6 L355.7,1111.0 L358.0,1111.2 L358.0,1108.7 L360.3,1108.8 L360.3,1110.9 L362.6,1111.3 L362.6,1108.3 L364.9,1108.3 L364.9,1111.3 L367.2,1111.1 L367.2,1108.4 L369.5,1108.8 L369.5,1110.8 L371.8,1111.2 L371.8,1108.5 L374.1,1108.3 L374.1,1111.2 L376.4,1111.2 L376.4,1108.4 L378.7,1108.6 L378.7,1111.2 L381.0,1110.8 L381.0,1108.5 L383.3,1108.6 L383.3,1110.9 L385.6,1111.4 L385.6,1108.7 L387.9,1108.6 L387.9,1110.8 L390.2,1111.0 L390.2,1108.4 L392.5,1108.3 L392.5,1111.2 L394.8,1111.2 L394.8,1108.6 L397.1,1108.7 L397.1,1111.4 L399.4,1110.8 L399.4,1108.8 L401.7,1108.5 L401.7,1111.3 L404.0,1110.9 L404.0,1108.5 L406.3,1108.3 L406.3,1110.9 L408.6,1111.1 L408.6,1108.6 L410.9,1108.4 L410.9,1111.0 L413.2,1111.0 L413.2,1108.8 L415.5,1108.1 L415.5,1110.8 L417.8,1111.4 L417.8,1108.3 L420.1,1108.1 L420.1,1110.9 L422.4,1111.3 L422.4,1108.3 L424.7,1108.6 L424.7,1111.1 L427.0,1110.8 L427.0,1108.1 L429.3,1108.7 L429.3,1111.1 L431.6,1110.9 L431.6,1108.4 L433.9,1108.2 L433.9,1110.8 L436.2,1111.3 L436.2,1108.3 L438.5,1108.3 L438.5,1111.0 L440.8,1111.1 L440.8,1108.3 L443.1,1108.5 L443.1,1110.7 L445.4,1110.7 L445.4,1108.4 L447.7,1108.7 L447.7,1110.9 L450.0,1110.7 L450.0,1108.3 L452.3,1108.0 L452.3,1110.8 L454.6,1111.1 L454.6,1108.5 L456.9,1108.7 L456.9,1111.1 L459.2,1111.3 L459.2,1108.4 L461.5,1108.6 L461.5,1111.2 L463.8,1110.9 L463.8,1108.3 L466.1,1108.2 L466.1,1111.3 L468.4,1110.9 L468.4,1108.5 L470.7,1108.2 L470.7,1110.8 L473.0,1110.8 L473.0,1108.6 L475.3,1107.9 L475.3,1111.1 L477.6,1110.6 L477.6,1108.2 L479.9,1108.1 L479.9,1110.5 L482.2,1110.6 L482.2,1108.0 L484.5,1107.9 L484.5,1111.0 L486.8,1110.5 L486.8,1107.8 L489.1,1108.5 L489.1,1110.5 L491.4,1110.8 L491.4,1108.2 L493.7,1107.8 L493.7,1110.9 L496.0,1110.5 L496.0,1107.7 L498.3,1108.0 L498.3,1110.5 L500.6,1110.4 L500.6,1107.6 L502.9,1108.3 L502.9,1110.3 L505.2,1110.5 L505.2,1107.5 L507.5,1107.7 L507.5,1110.8 L509.8,1110.8 L509.8,1107.5 L512.1,1107.9 L512.1,1110.5 L514.4,1110.6 L514.4,1107.6 L516.7,1108.0 L516.7,1110.3 L519.0,1110.5 L519.0,1107.9 L521.3,1107.8 L521.3,1110.5 L523.6,1109.7 L523.6,1107.1 L525.9,1107.3 L525.9,1109.3 L528.2,1109.1 L528.2,1106.3 L530.5,1106.2 L530.5,1108.2 L532.8,1107.9 L532.8,1105.0 L535.1,1104.9 L535.1,1107.0 L537.4,1105.7 L537.4,1104.0 L539.7,1102.8 L539.7,1104.7 L542.0,1103.3 L542.0,1101.7 L544.3,1100.1 L544.3,1101.8 L546.6,1099.6 L546.6,1098.1 L548.9,1096.2 L548.9,1098.1 L551.2,1096.4 L551.2,1094.9 L553.5,1093.5 L553.5,1095.9 L555.8,1094.7 L555.8,1092.5 L558.1,1091.4 L558.1,1094.3 L560.4,1093.6 L560.4,1090.9 L562.7,1090.9 L562.7,1093.2 L565.0,1093.7 L565.0,1091.2 L567.3,1091.4 L567.3,1093.6 L569.6,1094.7 L569.6,1091.9 L571.9,1092.5 L571.9,1095.3 L574.2,1095.9 L574.2,1093.5 L576.5,1095.2 L576.5,1096.7 L578.8,1098.4 L578.8,1096.4 L581.1,1098.3 L581.1,1099.8 L583.4,1101.7 L583.4,1099.9 L585.7,1101.6 L585.7,1103.4 L588.0,1104.8 L588.0,1102.9 L590.3,1103.7 L590.3,1106.2 L592.6,1107.1 L592.6,1105.0 L594.9,1105.5 L594.9,1107.8 L597.2,1109.0 L597.2,1106.5 L599.5,1106.5 L599.5,1108.8 L601.8,1109.0 L601.8,1106.4 L604.1,1107.0 L604.1,1109.2 L606.4,1109.7 L606.4,1107.0 L608.7,1107.1 L608.7,1109.3 L611.0,1109.2 L611.0,1107.2 L613.3,1107.1 L613.3,1109.1 L615.6,1109.2 L615.6,1106.8 L617.9,1107.0 L617.9,1109.7 L620.2,1109.4 L620.2,1106.9 L622.5,1106.7 L622.5,1109.8 L624.8,1109.2 L624.8,1107.2 L627.1,1107.2 L627.1,1109.4 L629.4,1109.7 L629.4,1107.0 L631.7,1107.1 L631.7,1109.3 L634.0,1109.7 L634.0,1107.3 L636.3,1107.4 L636.3,1109.9 L638.6,1110.0 L638.6,1107.3 L640.9,1106.7 L640.9,1110.0 L643.2,1110.1 L643.2,1106.8 L645.5,1107.0 L645.5,1109.9 L647.8,1109.9 L647.8,1107.4 L650.1,1107.1 L650.1,1109.8 L652.4,1110.0 L652.4,1107.1 L654.7,1107.0 L654.7,1109.7 L657.0,1109.6 L657.0,1107.4 L659.3,1107.2 L659.3,1109.7 L661.6,1109.6 L661.6,1107.2 L663.9,1107.3 L663.9,1109.7 L666.2,1109.7 L666.2,1107.0 L668.5,1106.8 L668.5,1109.6 L670.8,1110.1 L670.8,1107.2 L673.1,1107.1 L673.1,1109.7 L675.4,1110.1 L675.4,1107.0 L677.7,1107.1 L677.7,1110.0 L680.0,1109.9 L680.0,1107.3 L682.3,1107.4 L682.3,1110.0 L684.6,1110.0 L684.6,1106.9 L686.9,1107.1 L686.9,1109.5 L689.2,1109.5 L689.2,1107.0 L691.5,1106.8 L691.5,1109.5 L693.8,1109.5 L693.8,1106.8 L696.1,1107.1 L696.1,1110.0 L698.4,1110.0 L698.4,1107.0 L700.7,1107.4 L700.7,1110.2 L703.0,1109.9 L703.0,1107.5 L705.3,1107.4 L705.3,1109.9 L707.6,1109.9 L707.6,1107.1 L709.9,1107.2 L709.9,1109.8 L712.2,1110.0 L712.2,1107.0 L714.5,1107.1 L714.5,1109.8 L716.8,1110.1 L716.8,1107.5 L719.1,1107.5 L719.1,1109.5 L721.4,1109.9 L721.4,1107.2 L723.7,1107.1 L723.7,1110.0 L726.0,1109.7 L726.0,1106.9 L728.3,1107.4 L728.3,1110.0 L730.6,1109.7 L730.6,1107.3 L732.9,1107.5 L732.9,1109.6 L735.2,1110.2 L735.2,1107.2 L737.5,1107.0 L737.5,1109.7 L739.8,1109.9 L739.8,1106.8 L742.1,1107.2 L742.1,1110.0 L744.4,1109.7 L744.4,1106.8 L746.7,1106.8 L746.7,1110.0 L749.0,1109.5 L749.0,1106.9 L751.3,1107.5 L751.3,1109.9 L753.6,1109.9 L753.6,1107.0 L755.9,1107.2 L755.9,1109.4 L758.2,1110.1 L758.2,1107.3 L760.5,1107.2 L760.5,1109.8 L762.8,1109.7 L762.8,1106.9 L765.1,1107.5 L765.1,1110.0 L767.4,1110.2 L767.4,1106.9 L769.7,1106.9 L769.7,1109.7 L772.0,1109.5 L772.0,1106.8 L774.3,1107.1 L774.3,1109.9 L776.6,1109.5 L776.6,1106.9 L778.9,1107.4 L778.9,1109.5 L781.2,1109.5 L781.2,1107.0 L783.5,1106.9 L783.5,1109.6 L785.8,1109.9 L785.8,1107.5 L788.1,1107.5 L788.1,1109.4 L790.4,1109.9 L790.4,1107.0 L792.7,1106.9 L792.7,1109.6 L795.0,1109.5 L795.0,1107.0 L797.3,1107.0 L797.3,1110.1 L799.6,1110.0 L799.6,1106.9 L801.9,1107.4 L801.9,1109.5 L804.2,1109.5 L804.2,1107.2 L806.5,1107.1 L806.5,1110.0 L808.8,1110.0 L808.8,1107.4 L811.1,1107.3 L811.1,1109.9 L813.4,1109.5 L813.4,1106.9 L815.7,1107.0 L815.7,1110.0 L818.0,1109.3 L818.0,1106.9 L820.3,1106.6 L820.3,1109.2 L822.6,1109.7 L822.6,1107.1 L824.9,1107.0 L824.9,1109.1 L827.2,1109.7 L827.2,1106.7 L829.5,1106.5 L829.5,1109.5 L831.8,1109.2 L831.8,1106.8 L834.1,1106.5 L834.1,1109.4 L836.4,1108.9 L836.4,1106.1 L838.7,1105.8 L838.7,1108.9 L841.0,1108.3 L841.0,1106.0 L843.3,1105.8 L843.3,1108.3 L845.6,1107.5 L845.6,1105.6 L847.9,1104.8 L847.9,1106.6 L850.2,1105.2 L850.2,1103.4 L852.5,1102.0 L852.5,1103.6 L854.8,1101.7 L854.8,1100.3 L857.1,1098.4 L857.1,1099.8 L859.4,1097.4 L859.4,1096.3 L861.7,1094.1 L861.7,1095.3 L864.0,1093.0 L864.0,1091.7 L866.3,1089.4 L866.3,1090.8 L868.6,1088.8 L868.6,1087.4 L870.9,1085.3 L870.9,1087.2 L873.2,1085.8 L873.2,1083.7 L875.5,1082.6 L875.5,1084.7 L877.8,1084.1 L877.8,1081.4 L880.1,1080.9 L880.1,1083.6 L882.4,1082.6 L882.4,1080.0 L884.7,1079.3 L884.7,1081.9 L887.0,1081.5 L887.0,1079.3 L889.3,1078.2 L889.3,1080.6 L891.6,1080.1 L891.6,1078.1 L893.9,1077.7 L893.9,1079.8 L896.2,1079.4 L896.2,1076.8 L898.5,1076.4 L898.5,1078.8 L900.8,1079.0 L900.8,1076.3 L903.1,1075.6 L903.1,1077.9 L905.4,1077.3 L905.4,1075.2 L907.7,1074.2 L907.7,1077.1 L910.0,1075.9 L910.0,1073.7 L912.3,1072.4 L912.3,1074.6 L914.6,1073.0 L914.6,1071.2 L916.9,1069.9 L916.9,1071.2 L919.2,1069.7 L919.2,1068.3 L921.5,1066.2 L921.5,1067.7 L923.8,1066.2 L923.8,1064.5 L926.1,1062.4 L926.1,1064.3 L928.4,1062.1 L928.4,1060.7 L930.7,1059.1 L930.7,1060.4 L933.0,1058.9 L933.0,1057.1 L935.3,1055.6 L935.3,1057.2 L937.6,1055.6 L937.6,1053.7 L939.9,1052.6 L939.9,1054.2 L942.2,1053.0 L942.2,1051.2 L944.5,1049.9 L944.5,1052.0 L946.8,1050.5 L946.8,1048.9 L949.1,1047.4 L949.1,1049.8 L951.4,1048.5 L951.4,1046.3 L953.7,1045.5 L953.7,1047.5 L956.0,1046.1 L956.0,1044.1 L958.3,1042.8 L958.3,1045.0 L960.6,1044.0 L960.6,1041.8 L962.9,1040.8 L962.9,1043.2 L965.2,1042.1 L965.2,1039.7 L967.5,1038.8 L967.5,1041.0 L969.8,1039.7 L969.8,1037.6 L972.1,1036.6 L972.1,1038.4 L974.4,1037.9 L974.4,1035.4 L976.7,1034.6 L976.7,1036.5 L979.0,1035.6 L979.0,1033.9 L981.3,1032.7 L981.3,1035.1 L983.6,1033.8 L983.6,1031.6 L985.9,1030.9 L985.9,1032.7 L988.2,1032.2 L988.2,1029.8 L990.5,1028.8 L990.5,1031.3 L992.8,1030.0 L992.8,1027.7 L995.1,1026.7 L995.1,1029.1 L997.4,1028.0 L997.4,1025.5 L999.7,1024.7 L999.7,1026.6 L1002.0,1025.2 L1002.0,1023.2 L1004.3,1021.7 L1004.3,1023.5 L1006.6,1022.0 L1006.6,1020.0 L1008.9,1018.3 L1008.9,1019.8 L1011.2,1017.9 L1011.2,1016.5 L1013.5,1014.4 L1013.5,1015.4 L1015.8,1013.1 L1015.8,1011.9 L1018.1,1009.4 L1018.1,1010.6 L1020.4,1007.9 L1020.4,1006.8 L1022.7,1004.1 L1022.7,1005.1 L1025.0,1002.2 L1025.0,1001.1 L1027.3,998.3 L1027.3,999.5 L1029.6,996.3 L1029.6,995.5 L1031.9,992.8 L1031.9,993.5 L1034.2,990.8 L1034.2,989.7 L1036.5,986.8 L1036.5,988.0 L1038.8,985.0 L1038.8,983.9 L1041.1,981.1 L1041.1,981.8 L1043.4,978.8 L1043.4,977.8 L1045.7,974.7 L1045.7,975.4 L1048.0,972.3 L1048.0,971.5 L1050.3,967.9 L1050.3,968.7 L1052.6,965.1 L1052.6,964.5 L1054.9,960.6 L1054.9,961.3 L1057.2,957.2 L1057.2,956.6 L1059.5,952.3 L1059.5,952.9 L1061.8,948.4 L1061.8,947.9 L1064.1,943.5 L1064.1,944.0 L1066.4,939.5 L1066.4,939.0 L1068.7,934.6 L1068.7,935.2 L1071.0,930.8 L1071.0,930.3 L1073.3,925.9 L1073.3,926.4 L1075.6,922.1 L1075.6,921.5 L1077.9,917.2 L1077.9,917.7 L1080.2,913.4 L1080.2,912.8 L1082.5,908.4 L1082.5,908.8 L1084.8,904.5 L1084.8,904.0 L1087.1,899.6 L1087.1,900.1 L1089.4,895.9 L1089.4,895.3 L1091.7,890.9 L1091.7,891.5 L1094.0,887.3 L1094.0,886.7 L1096.3,882.4 L1096.3,883.0 L1098.6,878.8 L1098.6,878.3 L1100.9,873.9 L1100.9,874.5 L1103.2,869.9 L1103.2,869.4 L1105.5,864.8 L1105.5,865.3 L1107.8,860.6 L1107.8,860.1 L1110.1,855.4 L1110.1,855.9 L1112.4,851.3 L1112.4,850.8 L1114.7,846.3 L1114.7,846.9 L1117.0,842.6 L1117.0,842.0 L1119.3,837.7 L1119.3,838.4 L1121.6,834.3 L1121.6,833.6 L1123.9,829.6 L1123.9,830.2 L1126.2,826.3 L1126.2,825.7 L1128.5,821.7 L1128.5,822.6 L1130.8,818.9 L1130.8,818.2 L1133.1,814.6 L1133.1,815.4 L1135.4,812.0 L1135.4,811.4 L1137.7,808.1 L1137.7,808.8 L1140.0,805.8 L1140.0,804.8 L1142.3,802.2 L1142.3,803.2 L1144.6,801.1 L1144.6,799.8 L1146.9,797.8 L1146.9,799.5 L1149.2,798.3 L1149.2,796.6 L1151.5,795.3 L1151.5,797.4 L1153.8,796.2 L1153.8,794.5 L1156.1,793.7 L1156.1,795.9 L1158.4,794.9 L1158.4,792.6 L1160.7,791.9 L1160.7,794.1 L1163.0,793.8 L1163.0,790.9 L1165.3,790.6 L1165.3,792.8 L1167.6,792.2 L1167.6,789.9 L1169.9,789.6 L1169.9,792.0 L1172.2,791.3 L1172.2,788.6 L1174.5,788.4 L1174.5,790.6 L1176.8,790.7 L1176.8,788.2 L1179.1,787.8 L1179.1,789.8 L1181.4,790.0 L1181.4,787.5 L1183.7,787.1 L1183.7,789.1 L1186.0,788.6 L1186.0,786.3 L1188.3,785.9 L1188.3,788.4 L1190.6,788.3 L1190.6,785.4 L1192.9,785.0 L1192.9,787.5 L1195.2,787.6 L1195.2,785.2 L1197.5,784.4 L1197.5,787.5 L1199.8,786.9 L1199.8,784.1 L1202.1,784.2 L1202.1,786.9 L1204.4,787.3 L1204.4,784.4 L1206.7,784.5 L1206.7,787.2 L1209.0,787.5 L1209.0,784.6 L1211.3,785.2 L1211.3,787.4 L1213.6,788.1 L1213.6,786.1 L1215.9,786.6 L1215.9,788.6 L1218.2,789.3 L1218.2,787.6 L1220.5,788.1 L1220.5,790.6 L1222.8,791.5 L1222.8,789.2 L1225.1,789.8 L1225.1,792.5 L1227.4,792.8 L1227.4,790.9 L1229.7,791.6 L1229.7,793.9 L1232.0,794.5 L1232.0,791.7 L1234.3,793.1 L1234.3,794.8 L1236.6,796.2 L1236.6,793.4 L1238.9,793.8 L1238.9,796.3 L1241.2,797.5 L1241.2,794.8 L1243.5,795.7 L1243.5,798.0 L1245.8,798.4 L1245.8,796.3 L1248.1,797.1 L1248.1,799.4 L1250.4,800.6 L1250.4,798.5 L1252.7,799.3 L1252.7,801.4 L1255.0,802.6 L1255.0,800.3 L1257.3,801.0 L1257.3,803.4 L1259.6,804.2 L1259.6,801.8 L1261.9,802.8 L1261.9,805.2 L1264.2,806.1 L1264.2,803.3 L1266.5,804.4 L1266.5,806.7 L1268.8,807.2 L1268.8,805.0 L1271.1,806.0 L1271.1,808.3 L1273.4,808.7 L1273.4,806.3 L1275.7,806.9 L1275.7,809.5 L1278.0,809.7 L1278.0,807.1 L1280.3,808.0 L1280.3,810.1 L1282.6,810.9 L1282.6,807.7 L1284.9,808.2 L1284.9,810.6 L1287.2,811.2 L1287.2,808.1 L1289.5,808.5 L1289.5,811.1 L1291.8,811.4 L1291.8,808.4 L1294.1,808.6 L1294.1,811.5 L1296.4,811.0 L1296.4,808.4 L1298.7,808.4 L1298.7,811.6 L1301.0,810.9 L1301.0,808.8 L1303.3,808.9 L1303.3,811.4 L1305.6,811.5 L1305.6,808.6 L1307.9,808.1 L1307.9,811.2 L1310.2,810.8 L1310.2,808.4 L1312.5,807.9 L1312.5,810.6 L1314.8,810.0 L1314.8,807.5 L1317.1,807.0 L1317.1,809.7 L1319.4,808.4 L1319.4,806.3 L1321.7,805.7 L1321.7,807.7 L1324.0,806.7 L1324.0,804.5 L1326.3,803.5 L1326.3,806.1 L1328.6,805.3 L1328.6,803.4 L1330.9,802.1 L1330.9,805.0 L1333.2,804.0 L1333.2,801.9 L1335.5,801.0 L1335.5,803.2 L1337.8,802.7 L1337.8,800.5 L1340.1,799.7 L1340.1,801.7 L1342.4,801.7 L1342.4,798.9 L1344.7,798.6 L1344.7,800.7 L1347.0,799.8 L1347.0,797.7 L1349.3,796.6 L1349.3,799.5 L1351.6,798.9 L1351.6,795.9 L1353.9,795.2 L1353.9,798.2 L1356.2,796.9 L1356.2,795.0 L1358.5,794.1 L1358.5,796.3 L1360.8,795.4 L1360.8,793.1 L1363.1,792.6 L1363.1,795.0 L1365.4,793.8 L1365.4,791.9 L1367.7,790.7 L1367.7,793.1 L1370.0,792.7 L1370.0,790.0 L1372.3,789.8 L1372.3,792.1 L1374.6,791.9 L1374.6,789.1 L1376.9,789.4 L1376.9,792.1 L1379.2,792.2 L1379.2,789.5 L1381.5,789.5 L1381.5,792.1 L1383.8,791.6 L1383.8,788.9 L1386.1,789.2 L1386.1,791.6 L1388.4,791.8 L1388.4,789.4 L1390.7,789.0 L1390.7,792.0 L1393.0,792.3 L1393.0,789.5 L1395.3,789.9 L1395.3,792.3 L1397.6,792.5 L1397.6,790.4 L1399.9,790.5 L1399.9,793.5 L1402.2,794.1 L1402.2,791.5 L1404.5,792.3 L1404.5,794.6 L1406.8,795.5 L1406.8,793.4 L1409.1,794.8 L1409.1,796.4 L1411.4,798.1 L1411.4,796.1 L1413.7,797.9 L1413.7,799.6 L1416.0,801.1 L1416.0,799.7 L1418.3,802.0 L1418.3,803.0 L1420.6,805.3 L1420.6,804.1 L1422.9,807.0 L1422.9,808.0 L1425.2,810.8 L1425.2,809.9 L1427.5,813.0 L1427.5,813.8 L1429.8,817.1 L1429.8,816.1 L1432.1,819.5 L1432.1,820.3 L1434.4,823.7 L1434.4,822.9 L1436.7,826.7 L1436.7,827.3 L1439.0,830.9 L1439.0,830.1 L1441.3,833.8 L1441.3,834.6 L1443.6,838.2 L1443.6,837.5 L1445.9,841.1 L1445.9,841.9 L1448.2,845.6 L1448.2,845.0 L1450.5,848.8 L1450.5,849.4 L1452.8,853.2 L1452.8,852.7 L1455.1,856.8 L1455.1,857.3 L1457.4,861.5 L1457.4,861.0 L1459.7,865.3 L1459.7,865.9 L1462.0,870.2 L1462.0,869.6 L1464.3,873.9 L1464.3,874.5 L1466.6,878.8 L1466.6,878.1 L1468.9,882.5 L1468.9,883.0 L1471.2,887.4 L1471.2,886.7 L1473.5,891.1 L1473.5,891.6 L1475.8,896.1 L1475.8,895.5 L1478.1,900.0 L1478.1,900.6 L1480.4,905.1 L1480.4,904.7 L1482.7,909.3 L1482.7,909.8 L1485.0,914.6 L1485.0,914.1 L1487.3,919.0 L1487.3,919.5 L1489.6,924.5 L1489.6,924.1 L1491.9,929.4 L1491.9,929.8 L1494.2,935.1 L1496.5,941.0 L1498.8,947.1 L1501.1,953.3 L1503.4,959.5 L1505.7,965.5 L1508.0,971.4 L1508.0,971.0 L1510.3,976.4 L1510.3,976.7 L1512.6,981.8 L1514.9,987.3 L1517.2,993.5 L1519.5,1000.7 L1521.8,1009.3 L1524.1,1018.3 L1526.4,1026.5 L1528.7,1033.1 L1531.0,1038.8 L1531.0,1038.4 L1533.3,1043.0 L1533.3,1043.6 L1535.6,1047.8 L1535.6,1047.1 L1537.9,1051.1 L1537.9,1051.8 L1540.2,1055.5 L1540.2,1054.7 L1542.5,1058.3 L1542.5,1059.0 L1544.8,1062.3 L1544.8,1061.5 L1547.1,1064.6 L1547.1,1065.7 L1549.4,1068.8 L1549.4,1067.7 L1551.7,1070.5 L1551.7,1071.7 L1554.0,1074.4 L1554.0,1073.4 L1556.3,1076.1 L1556.3,1077.1 L1558.6,1079.8 L1558.6,1078.9 L1560.9,1081.3 L1560.9,1082.5 L1563.2,1084.8 L1563.2,1083.6 L1565.5,1086.0 L1565.5,1087.4 L1567.8,1089.1 L1567.8,1088.0 L1570.1,1089.6 L1570.1,1091.4 L1572.4,1093.0 L1572.4,1091.4 L1574.7,1093.2 L1574.7,1094.7 L1577.0,1096.7 L1577.0,1094.7 L1579.3,1095.9 L1579.3,1097.6 L1581.6,1099.1 L1581.6,1096.7 L1583.9,1098.2 L1583.9,1100.4 L1586.2,1100.8 L1586.2,1098.6 L1588.5,1099.3 L1588.5,1101.7 L1590.8,1102.8 L1590.8,1100.6 L1593.1,1101.2 L1593.1,1103.6 L1595.4,1104.0 L1595.4,1101.6 L1597.7,1102.0 L1597.7,1104.6 L1600.0,1105.3 L1600.0,1102.4 L1602.3,1103.2 L1602.3,1106.1 L1604.6,1105.9 L1604.6,1103.5 L1606.9,1104.3 L1606.9,1107.0 L1609.2,1107.1 L1609.2,1104.6 L1611.5,1104.9 L1611.5,1107.2 L1613.8,1107.8 L1613.8,1105.1 L1616.1,1105.4 L1616.1,1108.5 L1618.4,1108.5 L1618.4,1106.1 L1620.7,1106.0 L1620.7,1109.0 L1623.0,1109.0 L1623.0,1106.1 L1625.3,1106.3 L1625.3,1108.9 L1626.5,1108.0 L1626.6,1113.0" stroke="#ffa500"/>
<path d="M310.0,1109.4 L312.3,1109.4 L314.6,1109.4 L316.9,1109.4 L319.2,1109.4 L321.5,1109.4 L323.8,1109.4 L326.1,1109.4 L328.4,1109.4 L330.7,1109.4 L333.0,1109.4 L335.3,1109.4 L337.6,1109.4 L339.9,1109.4 L342.2,1109.4 L344.5,1109.4 L346.8,1109.4 L349.1,1109.4 L351.4,1109.4 L353.7,1109.4 L356.0,1109.4 L358.3,1109.4 L360.6,1109.4 L362.9,1109.4 L365.2,1109.4 L367.5,1109.4 L369.8,1109.4 L372.1,1109.4 L374.4,1109.4 L376.7,1109.4 L379.0,1109.4 L381.3,1109.4 L383.6,1109.4 L385.9,1109.4 L388.2,1109.4 L390.5,1109.4 L392.8,1109.4 L395.1,1109.4 L397.4,1109.4 L399.7,1109.4 L402.0,1109.4 L404.3,1109.4 L406.6,1109.4 L408.9,1109.4 L411.2,1109.4 L413.5,1109.4 L415.8,1109.4 L418.1,1109.4 L420.4,1109.4 L422.7,1109.4 L425.0,1109.4 L427.3,1109.4 L429.6,1109.4 L431.9,1109.4 L434.2,1109.4 L436.5,1109.4 L438.8,1109.4 L441.1,1109.4 L443.4,1109.4 L445.7,1109.4 L448.0,1109.4 L450.3,1109.4 L452.6,1109.4 L454.9,1109.4 L457.2,1109.4 L459.5,1109.4 L461.8,1109.4 L464.1,1109.4 L466.4,1109.4 L468.7,1109.4 L471.0,1109.4 L473.3,1109.4 L475.6,1109.4 L477.9,1109.4 L480.2,1109.4 L482.5,1109.4 L484.8,1109.4 L487.1,1109.4 L489.4,1109.4 L491.7,1109.4 L494.0,1109.4 L496.3,1109.4 L498.6,1109.4 L500.9,1110.6 L500.9,1108.4 L503.2,1108.2 L503.2,1110.1 L505.5,1110.4 L505.5,1107.6 L507.8,1107.2 L507.8,1110.0 L510.1,1109.2 L510.1,1106.8 L512.4,1106.3 L512.4,1108.9 L514.7,1108.4 L514.7,1105.8 L517.0,1105.3 L517.0,1107.5 L519.3,1107.1 L519.3,1104.9 L521.6,1104.4 L521.6,1107.0 L523.9,1107.2 L523.9,1104.5 L526.2,1103.8 L526.2,1106.7 L528.5,1106.5 L528.5,1104.0 L530.8,1103.2 L530.8,1106.1 L533.1,1105.9 L533.1,1103.2 L535.4,1102.9 L535.4,1105.6 L537.7,1105.6 L537.7,1102.7 L540.0,1103.0 L540.0,1105.3 L542.3,1105.1 L542.3,1102.7 L544.6,1102.8 L544.6,1105.0 L546.9,1105.5 L546.9,1102.9 L549.2,1102.9 L549.2,1105.2 L551.5,1105.3 L551.5,1102.5 L553.8,1102.7 L553.8,1105.2 L556.1,1105.8 L556.1,1102.8 L558.4,1102.6 L558.4,1105.3 L560.7,1105.8 L560.7,1102.7 L563.0,1102.9 L563.0,1105.4 L565.3,1105.5 L565.3,1102.7 L567.6,1102.7 L567.6,1105.3 L569.9,1105.5 L569.9,1103.3 L572.2,1102.9 L572.2,1106.0 L574.5,1105.5 L574.5,1103.3 L576.8,1103.0 L576.8,1105.5 L579.1,1106.2 L579.1,1103.4 L581.4,1103.7 L581.4,1105.8 L583.7,1105.7 L583.7,1103.7 L586.0,1103.6 L586.0,1106.2 L588.3,1106.1 L588.3,1103.6 L590.6,1103.5 L590.6,1106.2 L592.9,1106.1 L592.9,1103.7 L595.2,1103.3 L595.2,1106.5 L597.5,1106.3 L597.5,1103.7 L599.8,1103.6 L599.8,1106.3 L602.1,1106.7 L602.1,1103.8 L604.4,1103.4 L604.4,1106.3 L606.7,1106.5 L606.7,1104.1 L609.0,1103.6 L609.0,1106.5 L611.3,1106.5 L611.3,1104.0 L613.6,1103.7 L613.6,1106.4 L615.9,1106.6 L615.9,1104.3 L618.2,1103.8 L618.2,1106.4 L620.5,1106.3 L620.5,1104.0 L622.8,1104.1 L622.8,1106.7 L625.1,1106.8 L625.1,1104.4 L627.4,1103.8 L627.4,1107.0 L629.7,1107.0 L629.7,1104.1 L632.0,1104.2 L632.0,1106.7 L634.3,1106.4 L634.3,1104.1 L636.6,1103.9 L636.6,1106.6 L638.9,1106.5 L638.9,1104.5 L641.2,1103.8 L641.2,1107.0 L643.5,1106.8 L643.5,1103.9 L645.8,1104.0 L645.8,1107.0 L648.1,1106.9 L648.1,1104.2 L650.4,1104.0 L650.4,1106.9 L652.7,1107.2 L652.7,1103.9 L655.0,1103.9 L655.0,1107.0 L657.3,1106.5 L657.3,1104.6 L659.6,1104.6 L659.6,1106.6 L661.9,1106.9 L661.9,1104.4 L664.2,1104.5 L664.2,1107.1 L666.5,1107.0 L666.5,1104.5 L668.8,1104.3 L668.8,1107.2 L671.1,1106.6 L671.1,1104.3 L673.4,1103.9 L673.4,1107.0 L675.7,1106.9 L675.7,1104.5 L678.0,1104.2 L678.0,1106.7 L680.3,1106.6 L680.3,1103.9 L682.6,1104.0 L682.6,1107.0 L684.9,1106.6 L684.9,1104.2 L687.2,1104.3 L687.2,1106.6 L689.5,1107.0 L689.5,1104.4 L691.8,1104.4 L691.8,1107.0 L694.1,1107.0 L694.1,1104.4 L696.4,1104.5 L696.4,1107.1 L698.7,1106.6 L698.7,1104.1 L701.0,1104.4 L701.0,1106.7 L703.3,1106.5 L703.3,1104.2 L705.6,1103.9 L705.6,1106.7 L707.9,1107.0 L707.9,1104.2 L710.2,1104.4 L710.2,1106.9 L712.5,1106.7 L712.5,1103.9 L714.8,1104.4 L714.8,1107.0 L717.1,1106.6 L717.1,1103.9 L719.4,1104.2 L719.4,1106.5 L721.7,1106.4 L721.7,1103.8 L724.0,1103.9 L724.0,1106.3 L726.3,1106.3 L726.3,1104.2 L728.6,1104.2 L728.6,1106.9 L730.9,1106.8 L730.9,1104.1 L733.2,1104.0 L733.2,1106.8 L735.5,1106.5 L735.5,1103.6 L737.8,1103.9 L737.8,1106.2 L740.1,1106.8 L740.1,1104.0 L742.4,1103.5 L742.4,1106.5 L744.7,1106.6 L744.7,1103.4 L747.0,1103.6 L747.0,1106.4 L749.3,1106.0 L749.3,1103.4 L751.6,1103.7 L751.6,1106.3 L753.9,1106.4 L753.9,1103.8 L756.2,1103.6 L756.2,1106.7 L758.5,1106.3 L758.5,1104.0 L760.8,1103.6 L760.8,1106.5 L763.1,1106.7 L763.1,1103.7 L765.4,1103.6 L765.4,1106.2 L767.7,1106.2 L767.7,1104.0 L770.0,1103.7 L770.0,1106.5 L772.3,1106.9 L772.3,1104.3 L774.6,1104.1 L774.6,1106.9 L776.9,1106.3 L776.9,1104.1 L779.2,1104.3 L779.2,1106.9 L781.5,1106.8 L781.5,1104.0 L783.8,1104.0 L783.8,1106.9 L786.1,1106.8 L786.1,1104.7 L788.4,1104.3 L788.4,1107.1 L790.7,1107.1 L790.7,1104.7 L793.0,1104.3 L793.0,1107.3 L795.3,1107.3 L795.3,1104.6 L797.6,1104.5 L797.6,1107.2 L799.9,1107.5 L799.9,1105.0 L802.2,1104.7 L802.2,1107.6 L804.5,1107.2 L804.5,1104.6 L806.8,1104.5 L806.8,1107.3 L809.1,1107.1 L809.1,1104.5 L811.4,1104.2 L811.4,1106.6 L813.7,1106.4 L813.7,1104.4 L816.0,1104.1 L816.0,1106.6 L818.3,1106.4 L818.3,1103.3 L820.6,1103.8 L820.6,1106.3 L822.9,1105.9 L822.9,1103.2 L825.2,1103.2 L825.2,1105.6 L827.5,1105.9 L827.5,1103.2 L829.8,1102.5 L829.8,1105.6 L832.1,1104.9 L832.1,1102.6 L834.4,1102.0 L834.4,1104.9 L836.7,1104.3 L836.7,1101.8 L839.0,1102.0 L839.0,1104.1 L841.3,1103.9 L841.3,1101.3 L843.6,1101.5 L843.6,1104.4 L845.9,1103.9 L845.9,1101.5 L848.2,1101.0 L848.2,1103.5 L850.5,1103.2 L850.5,1100.7 L852.8,1100.3 L852.8,1103.0 L855.1,1102.5 L855.1,1100.0 L857.4,1099.6 L857.4,1102.1 L859.7,1102.0 L859.7,1099.2 L862.0,1098.7 L862.0,1101.1 L864.3,1100.6 L864.3,1098.2 L866.6,1097.7 L866.6,1100.5 L868.9,1100.0 L868.9,1097.3 L871.2,1096.4 L871.2,1099.5 L873.5,1098.5 L873.5,1096.2 L875.8,1095.4 L875.8,1098.1 L878.1,1096.9 L878.1,1094.8 L880.4,1094.1 L880.4,1096.2 L882.7,1095.6 L882.7,1093.6 L885.0,1092.8 L885.0,1095.2 L887.3,1094.6 L887.3,1091.8 L889.6,1091.4 L889.6,1093.5 L891.9,1092.6 L891.9,1090.6 L894.2,1090.1 L894.2,1092.2 L896.5,1091.6 L896.5,1089.3 L898.8,1088.7 L898.8,1090.6 L901.1,1090.1 L901.1,1087.7 L903.4,1087.0 L903.4,1089.4 L905.7,1088.9 L905.7,1086.6 L908.0,1085.5 L908.0,1088.6 L910.3,1087.4 L910.3,1085.2 L912.6,1084.6 L912.6,1086.9 L914.9,1086.1 L914.9,1083.5 L917.2,1082.8 L917.2,1085.6 L919.5,1084.7 L919.5,1082.3 L921.8,1081.5 L921.8,1084.1 L924.1,1083.2 L924.1,1081.3 L926.4,1080.0 L926.4,1082.8 L928.7,1081.5 L928.7,1079.2 L931.0,1079.0 L931.0,1081.0 L933.3,1080.0 L933.3,1078.1 L935.6,1076.7 L935.6,1079.3 L937.9,1078.4 L937.9,1076.0 L940.2,1075.5 L940.2,1077.4 L942.5,1076.9 L942.5,1074.1 L944.8,1073.6 L944.8,1075.4 L947.1,1074.8 L947.1,1072.4 L949.4,1071.9 L949.4,1073.7 L951.7,1072.7 L951.7,1070.6 L954.0,1070.0 L954.0,1072.2 L956.3,1071.1 L956.3,1068.7 L958.6,1067.9 L958.6,1070.0 L960.9,1068.9 L960.9,1066.9 L963.2,1066.1 L963.2,1068.5 L965.5,1067.5 L965.5,1065.0 L967.8,1064.4 L967.8,1066.4 L970.1,1065.7 L970.1,1063.7 L972.4,1063.0 L972.4,1065.1 L974.7,1064.3 L974.7,1061.8 L977.0,1061.5 L977.0,1063.4 L979.3,1063.1 L979.3,1060.2 L981.6,1059.5 L981.6,1062.0 L983.9,1061.1 L983.9,1059.2 L986.2,1058.4 L986.2,1060.6 L988.5,1059.5 L988.5,1057.2 L990.8,1056.8 L990.8,1058.6 L993.1,1058.1 L993.1,1055.7 L995.4,1054.6 L995.4,1056.7 L997.7,1056.0 L997.7,1053.7 L1000.0,1052.4 L1000.0,1054.7 L1002.3,1053.7 L1002.3,1051.3 L1004.6,1050.3 L1004.6,1052.3 L1006.9,1050.5 L1006.9,1049.0 L1009.2,1047.4 L1009.2,1048.8 L1011.5,1047.1 L1011.5,1045.3 L1013.8,1043.4 L1013.8,1044.5 L1016.1,1042.4 L1016.1,1040.9 L1018.4,1038.5 L1018.4,1039.5 L1020.7,1036.8 L1020.7,1035.9 L1023.0,1032.8 L1023.0,1033.7 L1025.3,1030.9 L1025.3,1029.9 L1027.6,1027.0 L1027.6,1027.8 L1029.9,1024.9 L1029.9,1024.0 L1032.2,1020.9 L1032.2,1021.9 L1034.5,1018.9 L1034.5,1018.1 L1036.8,1015.1 L1036.8,1016.1 L1039.1,1013.1 L1039.1,1012.2 L1041.4,1009.1 L1041.4,1010.2 L1043.7,1007.0 L1043.7,1006.1 L1046.0,1003.1 L1046.0,1003.9 L1048.3,1000.7 L1048.3,999.9 L1050.6,996.6 L1050.6,997.3 L1052.9,993.7 L1052.9,993.0 L1055.2,989.3 L1055.2,989.9 L1057.5,985.8 L1057.5,985.2 L1059.8,980.9 L1059.8,981.4 L1062.1,976.7 L1062.1,976.2 L1064.4,971.2 L1064.4,971.6 L1066.7,966.4 L1066.7,966.0 L1069.0,960.9 L1069.0,961.3 L1071.3,956.2 L1071.3,955.7 L1073.6,950.8 L1073.6,951.2 L1075.9,946.3 L1075.9,945.9 L1078.2,940.9 L1078.2,941.4 L1080.5,936.5 L1080.5,936.0 L1082.8,931.2 L1082.8,931.5 L1085.1,926.7 L1085.1,926.3 L1087.4,921.4 L1087.4,922.0 L1089.7,917.2 L1089.7,916.7 L1092.0,911.9 L1092.0,912.3 L1094.3,907.7 L1094.3,907.2 L1096.6,902.6 L1096.6,903.0 L1098.9,898.4 L1098.9,897.9 L1101.2,893.3 L1101.2,893.8 L1103.5,889.3 L1103.5,888.8 L1105.8,884.2 L1105.8,884.7 L1108.1,880.3 L1108.1,879.8 L1110.4,875.3 L1110.4,876.0 L1112.7,871.6 L1112.7,871.1 L1115.0,866.8 L1115.0,867.4 L1117.3,863.2 L1117.3,862.5 L1119.6,858.3 L1119.6,859.0 L1121.9,854.8 L1121.9,854.2 L1124.2,850.1 L1124.2,850.5 L1126.5,846.3 L1126.5,845.8 L1128.8,841.6 L1128.8,842.1 L1131.1,838.0 L1131.1,837.4 L1133.4,833.2 L1133.4,833.8 L1135.7,829.8 L1135.7,829.2 L1138.0,825.1 L1138.0,825.7 L1140.3,821.7 L1140.3,821.0 L1142.6,817.1 L1142.6,817.7 L1144.9,813.7 L1144.9,813.0 L1147.2,809.1 L1147.2,809.7 L1149.5,806.0 L1149.5,805.3 L1151.8,801.8 L1151.8,802.6 L1154.1,799.7 L1154.1,798.7 L1156.4,795.8 L1156.4,797.0 L1158.7,794.7 L1158.7,793.3 L1161.0,790.9 L1161.0,792.4 L1163.3,790.8 L1163.3,789.0 L1165.6,787.3 L1165.6,788.8 L1167.9,787.3 L1167.9,785.9 L1170.2,784.4 L1170.2,786.4 L1172.5,785.3 L1172.5,782.9 L1174.8,782.1 L1174.8,783.8 L1177.1,783.2 L1177.1,780.9 L1179.4,779.7 L1179.4,782.5 L1181.7,781.7 L1181.7,779.0 L1184.0,778.5 L1184.0,780.6 L1186.3,779.8 L1186.3,777.6 L1188.6,777.2 L1188.6,779.3 L1190.9,778.7 L1190.9,776.9 L1193.2,776.3 L1193.2,778.9 L1195.5,778.5 L1195.5,775.9 L1197.8,775.2 L1197.8,778.2 L1200.1,778.0 L1200.1,775.5 L1202.4,775.4 L1202.4,778.3 L1204.7,778.1 L1204.7,775.0 L1207.0,775.4 L1207.0,777.6 L1209.3,778.0 L1209.3,775.0 L1211.6,775.3 L1211.6,777.6 L1213.9,777.6 L1213.9,775.0 L1216.2,775.5 L1216.2,778.1 L1218.5,778.0 L1218.5,775.6 L1220.8,776.2 L1220.8,778.7 L1223.1,779.2 L1223.1,777.0 L1225.4,777.4 L1225.4,779.7 L1227.7,780.6 L1227.7,778.3 L1230.0,778.6 L1230.0,780.7 L1232.3,781.8 L1232.3,779.1 L1234.6,779.8 L1234.6,782.4 L1236.9,782.6 L1236.9,779.8 L1239.2,781.0 L1239.2,783.4 L1241.5,783.7 L1241.5,781.5 L1243.8,781.6 L1243.8,784.2 L1246.1,785.1 L1246.1,782.7 L1248.4,783.3 L1248.4,785.7 L1250.7,786.7 L1250.7,784.1 L1253.0,785.1 L1253.0,787.8 L1255.3,788.3 L1255.3,786.4 L1257.6,787.4 L1257.6,789.8 L1259.9,790.8 L1259.9,788.3 L1262.2,789.4 L1262.2,791.6 L1264.5,792.4 L1264.5,790.0 L1266.8,790.7 L1266.8,793.4 L1269.1,794.1 L1269.1,791.5 L1271.4,792.6 L1271.4,795.1 L1273.7,795.6 L1273.7,792.7 L1276.0,793.4 L1276.0,795.7 L1278.3,796.2 L1278.3,793.7 L1280.6,794.0 L1280.6,796.4 L1282.9,796.8 L1282.9,794.4 L1285.2,794.6 L1285.2,797.1 L1287.5,796.7 L1287.5,794.4 L1289.8,794.5 L1289.8,797.1 L1292.1,797.0 L1292.1,794.4 L1294.4,794.3 L1294.4,797.5 L1296.7,797.3 L1296.7,794.9 L1299.0,794.7 L1299.0,797.3 L1301.3,797.1 L1301.3,794.3 L1303.6,794.2 L1303.6,796.6 L1305.9,795.9 L1305.9,793.6 L1308.2,793.5 L1308.2,795.9 L1310.5,795.6 L1310.5,792.8 L1312.8,792.3 L1312.8,794.9 L1315.1,794.5 L1315.1,791.7 L1317.4,791.2 L1317.4,793.9 L1319.7,792.9 L1319.7,790.8 L1322.0,789.9 L1322.0,792.0 L1324.3,791.7 L1324.3,788.9 L1326.6,788.3 L1326.6,790.8 L1328.9,789.9 L1328.9,787.3 L1331.2,786.7 L1331.2,788.7 L1333.5,787.8 L1333.5,785.2 L1335.8,784.5 L1335.8,786.3 L1338.1,785.7 L1338.1,783.3 L1340.4,782.3 L1340.4,784.4 L1342.7,783.0 L1342.7,781.1 L1345.0,779.9 L1345.0,782.2 L1347.3,781.1 L1347.3,778.9 L1349.6,778.0 L1349.6,780.0 L1351.9,778.8 L1351.9,776.5 L1354.2,775.4 L1354.2,777.6 L1356.5,777.2 L1356.5,774.8 L1358.8,773.5 L1358.8,776.0 L1361.1,775.3 L1361.1,772.9 L1363.4,772.1 L1363.4,775.0 L1365.7,774.1 L1365.7,771.7 L1368.0,771.0 L1368.0,774.1 L1370.3,773.4 L1370.3,770.9 L1372.6,770.4 L1372.6,773.3 L1374.9,773.0 L1374.9,770.2 L1377.2,770.3 L1377.2,772.8 L1379.5,773.0 L1379.5,770.1 L1381.8,770.7 L1381.8,773.3 L1384.1,772.8 L1384.1,770.5 L1386.4,770.9 L1386.4,773.1 L1388.7,773.1 L1388.7,770.5 L1391.0,770.6 L1391.0,773.2 L1393.3,773.9 L1393.3,771.5 L1395.6,771.9 L1395.6,774.2 L1397.9,774.5 L1397.9,772.6 L1400.2,773.1 L1400.2,775.9 L1402.5,776.7 L1402.5,774.7 L1404.8,775.9 L1404.8,777.5 L1407.1,779.2 L1407.1,777.4 L1409.4,778.9 L1409.4,780.6 L1411.7,782.6 L1411.7,780.8 L1414.0,782.9 L1414.0,784.2 L1416.3,786.5 L1416.3,785.1 L1418.6,787.7 L1418.6,788.9 L1420.9,790.9 L1420.9,790.0 L1423.2,792.3 L1423.2,793.5 L1425.5,796.2 L1425.5,795.1 L1427.8,797.9 L1427.8,798.9 L1430.1,801.7 L1430.1,800.7 L1432.4,803.8 L1432.4,804.7 L1434.7,807.8 L1434.7,807.2 L1437.0,810.4 L1437.0,811.3 L1439.3,814.8 L1439.3,814.1 L1441.6,817.7 L1441.6,818.5 L1443.9,822.2 L1443.9,821.6 L1446.2,825.5 L1446.2,826.2 L1448.5,830.3 L1448.5,829.6 L1450.8,834.0 L1450.8,834.6 L1453.1,839.0 L1453.1,838.5 L1455.4,843.6 L1457.7,848.6 L1457.7,849.0 L1460.0,854.5 L1460.0,854.1 L1462.3,860.1 L1464.6,866.0 L1466.9,872.0 L1469.2,877.9 L1471.5,883.8 L1473.8,889.6 L1476.1,895.1 L1476.1,895.4 L1478.4,900.9 L1478.4,900.5 L1480.7,905.9 L1483.0,910.6 L1483.0,911.1 L1485.3,915.9 L1485.3,915.4 L1487.6,920.4 L1487.6,920.8 L1489.9,926.0 L1489.9,925.5 L1492.2,931.1 L1492.2,931.4 L1494.5,937.3 L1494.5,936.9 L1496.8,943.3 L1499.1,949.6 L1501.4,955.9 L1503.7,962.0 L1506.0,967.8 L1508.3,973.3 L1508.3,973.7 L1510.6,979.2 L1510.6,978.8 L1512.9,984.2 L1512.9,984.7 L1515.2,989.6 L1517.5,994.7 L1519.8,999.9 L1519.8,999.4 L1522.1,1004.3 L1522.1,1004.8 L1524.4,1009.6 L1524.4,1009.0 L1526.7,1013.6 L1526.7,1014.0 L1529.0,1018.5 L1529.0,1017.9 L1531.3,1021.9 L1531.3,1022.7 L1533.6,1026.5 L1533.6,1025.8 L1535.9,1029.5 L1535.9,1030.3 L1538.2,1033.8 L1538.2,1033.0 L1540.5,1036.3 L1540.5,1037.1 L1542.8,1040.3 L1542.8,1039.6 L1545.1,1042.5 L1545.1,1043.5 L1547.4,1046.6 L1547.4,1045.5 L1549.7,1048.4 L1549.7,1049.5 L1552.0,1052.0 L1552.0,1050.9 L1554.3,1053.5 L1554.3,1054.7 L1556.6,1057.2 L1556.6,1055.9 L1558.9,1058.3 L1558.9,1059.5 L1561.2,1061.5 L1561.2,1060.1 L1563.5,1062.0 L1563.5,1063.8 L1565.8,1065.5 L1565.8,1063.9 L1568.1,1065.7 L1568.1,1067.1 L1570.4,1069.1 L1570.4,1067.2 L1572.7,1068.5 L1572.7,1070.4 L1575.0,1072.0 L1575.0,1069.9 L1577.3,1070.9 L1577.3,1072.9 L1579.6,1074.4 L1579.6,1071.8 L1581.9,1073.3 L1581.9,1075.0 L1584.2,1076.4 L1584.2,1074.5 L1586.5,1075.1 L1586.5,1077.2 L1588.8,1078.6 L1588.8,1076.3 L1591.1,1077.7 L1591.1,1079.9 L1593.4,1080.9 L1593.4,1078.4 L1595.7,1079.7 L1595.7,1081.6 L1598.0,1082.3 L1598.0,1080.5 L1600.3,1081.1 L1600.3,1083.3 L1602.6,1083.8 L1602.6,1080.9 L1604.9,1081.7 L1604.9,1084.1 L1607.2,1084.2 L1607.2,1082.0 L1609.5,1082.3 L1609.5,1084.9 L1611.8,1085.5 L1611.8,1082.6 L1614.1,1083.3 L1614.1,1085.2 L1616.4,1086.2 L1616.4,1083.3 L1618.7,1083.5 L1618.7,1086.0 L1621.0,1086.2 L1621.0,1083.7 L1622.6,1085.6 L1623.4,1113.0" stroke="#c94c17"/>
</g>
<g stroke="#000" stroke-width="3.33" fill="none" stroke-linecap="square">
<line x1="241.6" y1="29.6" x2="241.6" y2="1112.9" stroke-width="3.05"/>
<line x1="241.6" y1="1112.9" x2="1693.7" y2="1112.9"/>
</g>
<g stroke="#000" stroke-width="3.33" stroke-linecap="butt">
<line x1="257.2" y1="1112.9" x2="257.2" y2="1127.5"/>
<line x1="545.2" y1="1112.9" x2="545.2" y2="1127.5"/>
<line x1="833.2" y1="1112.9" x2="833.2" y2="1127.5"/>
<line x1="1121.2" y1="1112.9" x2="1121.2" y2="1127.5"/>
<line x1="1409.2" y1="1112.9" x2="1409.2" y2="1127.5"/>
<line x1="241.6" y1="1112.9" x2="227.0" y2="1112.9"/>
<line x1="241.6" y1="962.6" x2="227.0" y2="962.6"/>
<line x1="241.6" y1="812.3" x2="227.0" y2="812.3"/>
<line x1="241.6" y1="661.9" x2="227.0" y2="661.9"/>
<line x1="241.6" y1="511.6" x2="227.0" y2="511.6"/>
<line x1="241.6" y1="361.3" x2="227.0" y2="361.3"/>
<line x1="241.6" y1="211.0" x2="227.0" y2="211.0"/>
<line x1="241.6" y1="60.7" x2="227.0" y2="60.7"/>
</g>
<g id="xticklabels">
<text><tspan x="241.44" y="1184.60" font-size="63.65" textLength="31.31" lengthAdjust="spacingAndGlyphs">0</tspan></text>
<text><tspan x="498.99" y="1184.60" font-size="63.65" textLength="91.62" lengthAdjust="spacingAndGlyphs">200</tspan></text>
<text><tspan x="786.96" y="1184.60" font-size="63.65" textLength="90.63" lengthAdjust="spacingAndGlyphs">400</tspan></text>
<text><tspan x="1074.73" y="1184.60" font-size="63.65" textLength="89.95" lengthAdjust="spacingAndGlyphs">600</tspan></text>
<text><tspan x="1361.99" y="1184.60" font-size="63.65" textLength="91.72" lengthAdjust="spacingAndGlyphs">800</tspan></text>
</g>
<g id="yticklabels">
<text><tspan x="106.91" y="1134.50" font-size="63.65" textLength="105.57" lengthAdjust="spacingAndGlyphs">0.00</tspan></text>
<text><tspan x="106.91" y="984.24" font-size="63.65" textLength="105.57" lengthAdjust="spacingAndGlyphs">0.25</tspan></text>
<text><tspan x="106.91" y="833.99" font-size="63.65" textLength="105.57" lengthAdjust="spacingAndGlyphs">0.50</tspan></text>
<text><tspan x="106.91" y="683.73" font-size="63.65" textLength="105.57" lengthAdjust="spacingAndGlyphs">0.75</tspan></text>
<text><tspan x="106.05" y="533.47" font-size="63.65" textLength="106.45" lengthAdjust="spacingAndGlyphs">1.00</tspan></text>
<text><tspan x="106.05" y="383.21" font-size="63.65" textLength="106.45" lengthAdjust="spacingAndGlyphs">1.25</tspan></text>
<text><tspan x="106.05" y="232.96" font-size="63.65" textLength="106.45" lengthAdjust="spacingAndGlyphs">1.50</tspan></text>
<text><tspan x="106.05" y="82.70" font-size="63.65" textLength="106.45" lengthAdjust="spacingAndGlyphs">1.75</tspan></text>
</g>
<g id="xlabel" aria-label="Temperature (°C)">
<text><tspan x="732.52" y="1261.50" font-size="63.34" textLength="349.61" lengthAdjust="spacingAndGlyphs">Temperature</tspan> <tspan x="1098.78" y="1259.10" font-size="56.58" textLength="19.42" lengthAdjust="spacingAndGlyphs">(</tspan><tspan x="1118.42" y="1261.50" font-size="63.34" textLength="22.01" lengthAdjust="spacingAndGlyphs">°</tspan><tspan class="i" x="1142.44" y="1261.50" font-size="63.04" textLength="42.06" lengthAdjust="spacingAndGlyphs">C</tspan><tspan x="1183.73" y="1259.10" font-size="56.58" textLength="17.80" lengthAdjust="spacingAndGlyphs">)</tspan></text>
</g>
<g id="ylabel" aria-label="Concentration (cm³/min g)" transform="translate(71.5,0) rotate(-90)">
<text><tspan x="-917.11" y="0.00" font-size="63.34" textLength="382.11" lengthAdjust="spacingAndGlyphs">Concentration</tspan> <tspan x="-515.82" y="-2.40" font-size="56.58" textLength="17.29" lengthAdjust="spacingAndGlyphs">(</tspan><tspan class="i" x="-494.91" y="0.00" font-size="63.04" textLength="67.93" lengthAdjust="spacingAndGlyphs">cm</tspan><tspan class="i" x="-420.92" y="-21.70" font-size="44.34" textLength="18.68" lengthAdjust="spacingAndGlyphs">3</tspan><tspan class="i" stroke="#000" stroke-width="1.2" x="-396.71" y="1.00" font-size="65.19" textLength="12.38" lengthAdjust="spacingAndGlyphs">/</tspan><tspan class="i" x="-376.38" y="0.00" font-size="63.04" textLength="85.57" lengthAdjust="spacingAndGlyphs">min</tspan> <tspan class="i" x="-276.60" y="0.00" font-size="63.04" textLength="30.45" lengthAdjust="spacingAndGlyphs">g</tspan><tspan x="-245.86" y="-2.40" font-size="56.58" textLength="20.94" lengthAdjust="spacingAndGlyphs">)</tspan></text>
</g>
<rect x="1350.3" y="60.5" width="976.3" height="381.9" rx="6" ry="6" fill="#fff" fill-opacity="0.8" stroke="#d5d5d5" stroke-width="4.1"/>
<g id="legend">
<line x1="1373.2" y1="106.8" x2="1497.2" y2="106.8" stroke="#288bd6" stroke-width="8.33"/>
<text><tspan x="1543.79" y="129.60" font-size="63.65" textLength="112.87" lengthAdjust="spacingAndGlyphs">15%</tspan> <tspan class="i" x="1672.95" y="129.60" font-size="63.04" textLength="101.21" lengthAdjust="spacingAndGlyphs">NiO</tspan> <tspan x="1789.38" y="126.10" font-size="49.20" textLength="20.43" lengthAdjust="spacingAndGlyphs">-</tspan> <tspan x="1823.33" y="129.60" font-size="63.65" textLength="81.63" lengthAdjust="spacingAndGlyphs">5%</tspan> <tspan class="i" x="1923.27" y="129.60" font-size="63.04" textLength="110.47" lengthAdjust="spacingAndGlyphs">CeO</tspan><tspan x="2034.24" y="136.80" font-size="44.56" textLength="21.81" lengthAdjust="spacingAndGlyphs">2</tspan><tspan class="i" stroke="#000" stroke-width="1.2" x="2060.17" y="130.60" font-size="65.19" textLength="11.08" lengthAdjust="spacingAndGlyphs">/</tspan><tspan class="i" x="2075.55" y="128.10" font-size="58.42" textLength="23.96" lengthAdjust="spacingAndGlyphs">γ</tspan> <tspan x="2109.27" y="133.20" font-size="61.50" textLength="41.27" lengthAdjust="spacingAndGlyphs">−</tspan> <tspan class="i" x="2160.97" y="129.60" font-size="60.88" textLength="53.66" lengthAdjust="spacingAndGlyphs">Al</tspan><tspan x="2213.34" y="136.80" font-size="44.56" textLength="21.69" lengthAdjust="spacingAndGlyphs">2</tspan><tspan class="i" x="2238.60" y="129.60" font-size="63.04" textLength="43.14" lengthAdjust="spacingAndGlyphs">O</tspan><tspan x="2281.31" y="136.80" font-size="44.56" textLength="20.15" lengthAdjust="spacingAndGlyphs">3</tspan></text>
<line x1="1373.2" y1="198.0" x2="1497.2" y2="198.0" stroke="#869a06" stroke-width="8.33"/>
<text><tspan x="1543.79" y="220.80" font-size="63.65" textLength="112.87" lengthAdjust="spacingAndGlyphs">10%</tspan> <tspan class="i" x="1672.95" y="220.80" font-size="63.04" textLength="101.21" lengthAdjust="spacingAndGlyphs">NiO</tspan> <tspan x="1789.38" y="217.30" font-size="49.20" textLength="20.43" lengthAdjust="spacingAndGlyphs">-</tspan> <tspan x="1823.33" y="220.80" font-size="63.65" textLength="81.63" lengthAdjust="spacingAndGlyphs">5%</tspan> <tspan class="i" x="1923.27" y="220.80" font-size="63.04" textLength="110.47" lengthAdjust="spacingAndGlyphs">CeO</tspan><tspan x="2034.24" y="228.00" font-size="44.56" textLength="21.81" lengthAdjust="spacingAndGlyphs">2</tspan><tspan class="i" stroke="#000" stroke-width="1.2" x="2060.17" y="221.80" font-size="65.19" textLength="11.08" lengthAdjust="spacingAndGlyphs">/</tspan><tspan class="i" x="2075.55" y="219.30" font-size="58.42" textLength="23.96" lengthAdjust="spacingAndGlyphs">γ</tspan> <tspan x="2109.27" y="224.40" font-size="61.50" textLength="41.27" lengthAdjust="spacingAndGlyphs">−</tspan> <tspan class="i" x="2160.97" y="220.80" font-size="60.88" textLength="53.66" lengthAdjust="spacingAndGlyphs">Al</tspan><tspan x="2213.34" y="228.00" font-size="44.56" textLength="21.69" lengthAdjust="spacingAndGlyphs">2</tspan><tspan class="i" x="2238.60" y="220.80" font-size="63.04" textLength="43.14" lengthAdjust="spacingAndGlyphs">O</tspan><tspan x="2281.31" y="228.00" font-size="44.56" textLength="20.15" lengthAdjust="spacingAndGlyphs">3</tspan></text>
<line x1="1373.2" y1="289.4" x2="1497.2" y2="289.4" stroke="#ffa500" stroke-width="8.33"/>
<text><tspan x="1544.12" y="312.00" font-size="63.65" textLength="81.94" lengthAdjust="spacingAndGlyphs">5%</tspan> <tspan class="i" x="1642.65" y="312.00" font-size="63.04" textLength="101.21" lengthAdjust="spacingAndGlyphs">NiO</tspan> <tspan x="1759.08" y="308.50" font-size="49.20" textLength="20.43" lengthAdjust="spacingAndGlyphs">-</tspan> <tspan x="1793.03" y="312.00" font-size="63.65" textLength="81.63" lengthAdjust="spacingAndGlyphs">5%</tspan> <tspan class="i" x="1892.97" y="312.00" font-size="63.04" textLength="110.47" lengthAdjust="spacingAndGlyphs">CeO</tspan><tspan x="2003.94" y="319.20" font-size="44.56" textLength="21.81" lengthAdjust="spacingAndGlyphs">2</tspan><tspan class="i" stroke="#000" stroke-width="1.2" x="2029.87" y="313.00" font-size="65.19" textLength="11.08" lengthAdjust="spacingAndGlyphs">/</tspan><tspan class="i" x="2045.25" y="310.50" font-size="58.42" textLength="23.96" lengthAdjust="spacingAndGlyphs">γ</tspan> <tspan x="2078.97" y="315.60" font-size="61.50" textLength="41.27" lengthAdjust="spacingAndGlyphs">−</tspan> <tspan class="i" x="2130.67" y="312.00" font-size="60.88" textLength="53.66" lengthAdjust="spacingAndGlyphs">Al</tspan><tspan x="2183.04" y="319.20" font-size="44.56" textLength="21.69" lengthAdjust="spacingAndGlyphs">2</tspan><tspan class="i" x="2208.30" y="312.00" font-size="63.04" textLength="43.14" lengthAdjust="spacingAndGlyphs">O</tspan><tspan x="2251.01" y="319.20" font-size="44.56" textLength="20.15" lengthAdjust="spacingAndGlyphs">3</tspan></text>
<line x1="1373.2" y1="380.6" x2="1497.2" y2="380.6" stroke="#c94c17" stroke-width="8.33"/>
<text><tspan x="1544.12" y="403.20" font-size="63.65" textLength="81.94" lengthAdjust="spacingAndGlyphs">5%</tspan> <tspan class="i" x="1642.65" y="403.20" font-size="63.04" textLength="101.21" lengthAdjust="spacingAndGlyphs">NiO</tspan><tspan class="i" stroke="#000" stroke-width="1.2" x="1746.22" y="404.20" font-size="65.19" textLength="11.08" lengthAdjust="spacingAndGlyphs">/</tspan><tspan class="i" x="1761.60" y="401.70" font-size="58.42" textLength="23.96" lengthAdjust="spacingAndGlyphs">γ</tspan> <tspan x="1795.32" y="406.80" font-size="61.50" textLength="41.27" lengthAdjust="spacingAndGlyphs">−</tspan> <tspan class="i" x="1847.02" y="403.20" font-size="60.88" textLength="53.66" lengthAdjust="spacingAndGlyphs">Al</tspan><tspan x="1899.39" y="410.40" font-size="44.56" textLength="21.69" lengthAdjust="spacingAndGlyphs">2</tspan><tspan class="i" x="1924.65" y="403.20" font-size="63.04" textLength="43.14" lengthAdjust="spacingAndGlyphs">O</tspan><tspan x="1967.36" y="410.40" font-size="44.56" textLength="20.15" lengthAdjust="spacingAndGlyphs">3</tspan></text>
</g>
</svg></body></html>
